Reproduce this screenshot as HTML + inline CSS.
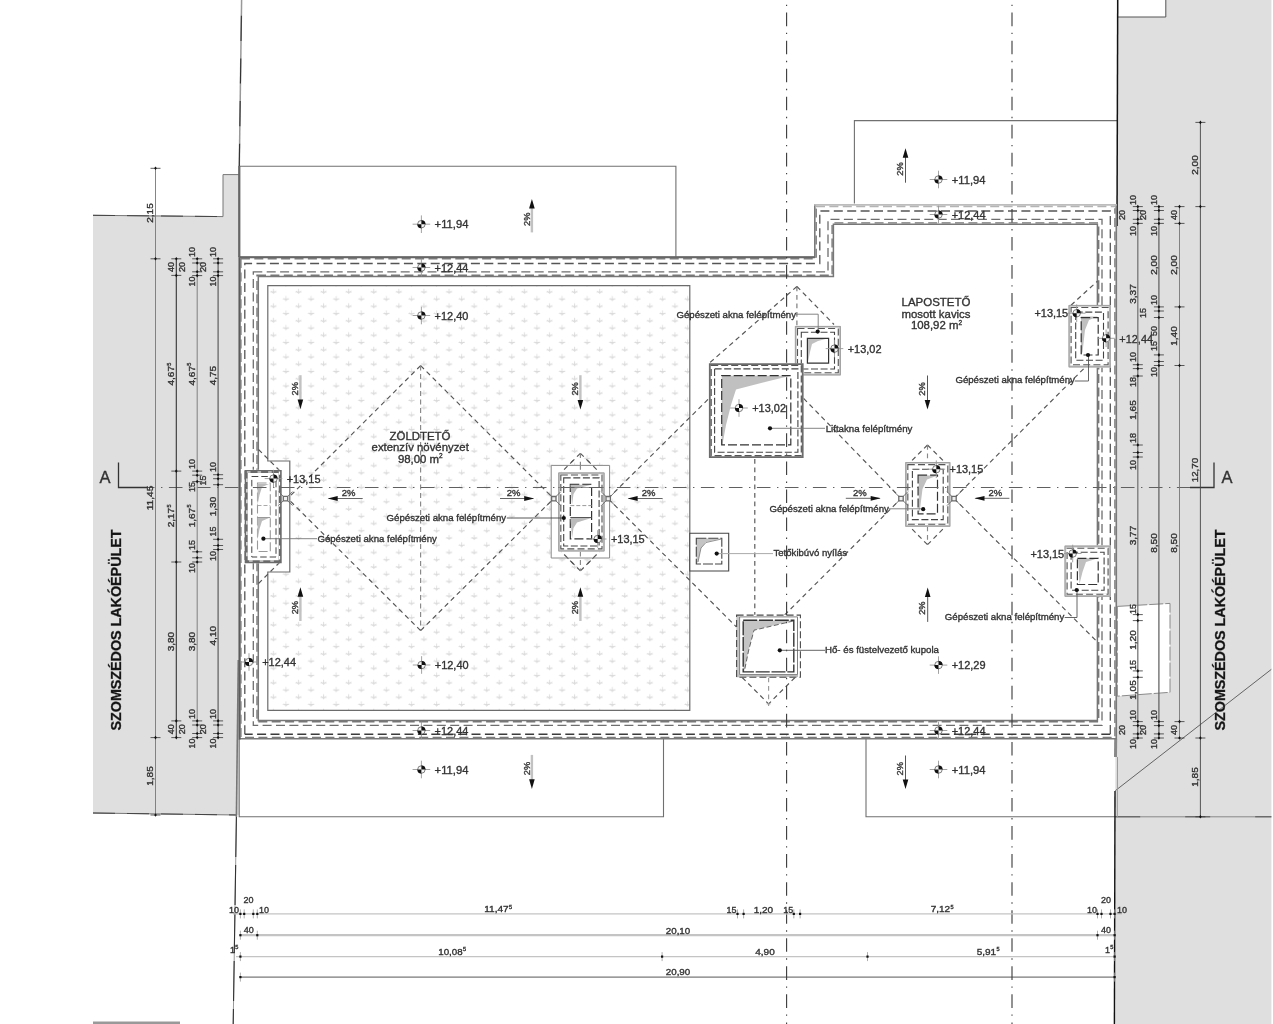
<!DOCTYPE html>
<html><head><meta charset="utf-8"><title>Tetőfelülnézet</title>
<style>
html,body{margin:0;padding:0;background:#fff;}
body{width:1273px;height:1024px;overflow:hidden;}
svg{display:block;font-family:"Liberation Sans",sans-serif;will-change:transform;}
svg text{stroke:#333;stroke-width:0.35px;}
</style></head><body>
<svg width="1273" height="1024" viewBox="0 0 1273 1024">
<rect x="0" y="0" width="1273" height="1024" fill="#fff"/>
<polygon points="93,215.3 223,216.6 223,174.6 239,174.6 239,815 93,813" fill="#dfdfdf" stroke="none" stroke-width="1" />
<polygon points="1117.7,0 1271.4,0 1271.4,1024 1114.5,1024" fill="#dfdfdf" stroke="none" stroke-width="1" />
<polygon points="1117.6,-2 1165.8,-2 1165.8,17 1117.6,17" fill="#fff" stroke="#555" stroke-width="1" />
<polygon points="1117.3,606.4 1170,603.4 1170,692.3 1117.3,696.2" fill="#fff" stroke="#8a8a8a" stroke-width="1" stroke-dasharray="14 2" />
<polygon points="93,1021.5 180,1021.5 180,1024 93,1024" fill="#999" stroke="none" stroke-width="1" />
<polyline points="93,215.3 223,216.6 223,174.6 239,174.6" fill="none" stroke="#777" stroke-width="1" />
<polyline points="93,215.3 223,216.6" fill="none" stroke="#444" stroke-width="1" stroke-dasharray="22 12" />
<polyline points="93,813 237,815" fill="none" stroke="#777" stroke-width="1" />
<polyline points="93,813 237,815" fill="none" stroke="#444" stroke-width="1" stroke-dasharray="22 12" />
<line x1="1115.2" y1="816.8" x2="1271.4" y2="816.8" stroke="#888" stroke-width="1" />
<line x1="1115.2" y1="816.8" x2="1271.4" y2="816.8" stroke="#555" stroke-width="1" stroke-dasharray="25 45" />
<line x1="1115.3" y1="790.7" x2="1271.3" y2="669.4" stroke="#555" stroke-width="0.9" />
<polyline points="239.2,257 239.2,166.3 675.9,166.3 675.9,257" fill="none" stroke="#707070" stroke-width="1.1" />
<polyline points="854.4,205 854.4,120.6 1117.3,120.6" fill="none" stroke="#707070" stroke-width="1.1" />
<polyline points="239.2,739 239.2,816.8 663.5,816.8 663.5,739" fill="none" stroke="#707070" stroke-width="1.1" />
<polyline points="866,739 866,816.8 1115.3,816.8" fill="none" stroke="#707070" stroke-width="1.1" />
<line x1="241.6" y1="0" x2="239.3" y2="166" stroke="#999" stroke-width="1.5" />
<line x1="241.6" y1="0" x2="239.3" y2="166" stroke="#333" stroke-width="1.1" stroke-dasharray="25.2 17.5" stroke-dashoffset="-15.7"/>
<line x1="239.3" y1="166" x2="239.3" y2="257" stroke="#666" stroke-width="2.2" />
<line x1="238.3" y1="660" x2="236.4" y2="817" stroke="#777" stroke-width="1.6" />
<line x1="236.4" y1="817" x2="233.2" y2="1024" stroke="#999" stroke-width="1" />
<line x1="236.4" y1="817" x2="233.2" y2="1024" stroke="#333" stroke-width="1.1" stroke-dasharray="40 8" />
<line x1="1117.7" y1="0" x2="1117.0" y2="226" stroke="#111" stroke-width="1.5" />
<line x1="1115.7" y1="739" x2="1115.5" y2="757" stroke="#888" stroke-width="3" />
<line x1="1117.5" y1="757" x2="1117.3" y2="817" stroke="#999" stroke-width="1" />
<line x1="1115.0" y1="791" x2="1114.4" y2="1024" stroke="#111" stroke-width="1.4" />
<defs>
<pattern id="grass" x="278.6" y="360.4" width="25.1" height="14.48" patternUnits="userSpaceOnUse">
 <g stroke="#d2d2d2" stroke-width="0.7" fill="none">
  <path d="M19.90 0.80V5.40M16.80 3.90H23.00M17.40 3.00L19.90 5.40L22.40 3.00"/>
  <path d="M7.40 8.04V12.64M4.30 11.14H10.50M4.90 10.24L7.40 12.64L9.90 10.24"/>
 </g>
</pattern>
</defs>
<polygon points="267.8,285.6 689.8,285.6 689.8,710.3 267.8,710.3 267.8,572 289.8,572 289.8,461 267.8,461" fill="url(#grass)" stroke="none" stroke-width="1" />
<polygon points="267.8,285.6 689.8,285.6 689.8,710.3 267.8,710.3 267.8,572 289.8,572 289.8,461 267.8,461" fill="none" stroke="#6c6c6c" stroke-width="1.2" />
<polygon points="239.5,257.3 814.8,257.3 814.8,205 1116.3,205 1116.3,738.8 239.5,738.8" fill="none" stroke="#7a7a7a" stroke-width="1.6" />
<line x1="239.6" y1="256.5" x2="239.6" y2="739.6" stroke="#5c5c5c" stroke-width="2" />
<line x1="239" y1="257.3" x2="814.8" y2="257.3" stroke="#666" stroke-width="1.9" />
<polygon points="240.9,258.7 816.1999999999999,258.7 816.1999999999999,206.4 1114.8999999999999,206.4 1114.8999999999999,737.4 240.9,737.4" fill="none" stroke="#7a7a7a" stroke-width="1.4" stroke-dasharray="9 4.4" />
<polygon points="816.2,203.6 1115.2,203.6 1115.2,208.2 816.2,208.2" fill="#fff" stroke="none" stroke-width="1" />
<polyline points="814.2,204.8 1116.8,204.8" fill="none" stroke="#bdbdbd" stroke-width="1.7" />
<polyline points="816,206.5 1115.5,206.5" fill="none" stroke="#b4b4b4" stroke-width="1.7" stroke-dasharray="9 4.4" />
<polyline points="244.8,734.2 244.8,263.5 819.8,263.5 819.8,211 1110.3,211 1110.3,734.2" fill="none" stroke="#555" stroke-width="1.3" stroke-dasharray="9 4.4" />
<line x1="1110.3" y1="734.2" x2="244.8" y2="734.2" stroke="#3c3c3c" stroke-width="1.5" stroke-dasharray="9 4.4" />
<polygon points="253.3,271.9 828,271.9 828,219.3 1102,219.3 1102,725.4 253.3,725.4" fill="none" stroke="#6e6e6e" stroke-width="1.3" stroke-dasharray="9 4.4" />
<polygon points="257.0,275.3 832.1,275.3 832.1,222.89999999999998 1098.7,222.89999999999998 1098.7,721.8 257.0,721.8" fill="none" stroke="#777" stroke-width="1.4" stroke-dasharray="9 4.4" />
<polygon points="258.3,276.6 833.4,276.6 833.4,224.2 1097.4,224.2 1097.4,720.5 258.3,720.5" fill="none" stroke="#777" stroke-width="1.5" />
<line x1="420.6" y1="365.6" x2="289.8" y2="496.4" stroke="#555" stroke-width="1.15" stroke-dasharray="4.8 3.7" />
<line x1="420.6" y1="365.6" x2="553.6" y2="498.6" stroke="#555" stroke-width="1.15" stroke-dasharray="4.8 3.7" />
<line x1="420.6" y1="630.6" x2="289.8" y2="500.6" stroke="#555" stroke-width="1.15" stroke-dasharray="4.8 3.7" />
<line x1="420.6" y1="630.6" x2="553.6" y2="498.6" stroke="#555" stroke-width="1.15" stroke-dasharray="4.8 3.7" />
<line x1="420.6" y1="365.6" x2="420.6" y2="630.6" stroke="#888" stroke-width="1.15" stroke-dasharray="4.8 3.7" />
<line x1="258.5" y1="449.5" x2="279.5" y2="470.5" stroke="#555" stroke-width="1.15" stroke-dasharray="4.8 3.7" />
<line x1="258.5" y1="583.5" x2="279.5" y2="562.5" stroke="#555" stroke-width="1.15" stroke-dasharray="4.8 3.7" />
<line x1="580.4" y1="453.3" x2="561.3" y2="472.4" stroke="#555" stroke-width="1.15" stroke-dasharray="4.8 3.7" />
<line x1="580.4" y1="453.3" x2="599.5" y2="472.4" stroke="#555" stroke-width="1.15" stroke-dasharray="4.8 3.7" />
<line x1="580.4" y1="570.9" x2="561.3" y2="551.6" stroke="#555" stroke-width="1.15" stroke-dasharray="4.8 3.7" />
<line x1="580.4" y1="570.9" x2="599.5" y2="551.6" stroke="#555" stroke-width="1.15" stroke-dasharray="4.8 3.7" />
<line x1="580.4" y1="453.3" x2="580.4" y2="472" stroke="#888" stroke-width="1.15" stroke-dasharray="4.8 3.7" />
<line x1="580.4" y1="551.6" x2="580.4" y2="570.9" stroke="#888" stroke-width="1.15" stroke-dasharray="4.8 3.7" />
<line x1="608" y1="498.6" x2="709" y2="398.4" stroke="#555" stroke-width="1.15" stroke-dasharray="4.8 3.7" />
<line x1="608.2" y1="498.7" x2="736.8" y2="627.3" stroke="#555" stroke-width="1.15" stroke-dasharray="4.8 3.7" />
<line x1="796.9" y1="286.5" x2="709.5" y2="363" stroke="#555" stroke-width="1.15" stroke-dasharray="4.8 3.7" />
<line x1="796.9" y1="286.5" x2="834" y2="324.5" stroke="#555" stroke-width="1.15" stroke-dasharray="4.8 3.7" />
<line x1="796.9" y1="286.5" x2="796.9" y2="326" stroke="#777" stroke-width="1.15" stroke-dasharray="4.8 3.7" />
<line x1="803.6" y1="398.4" x2="901" y2="498.4" stroke="#555" stroke-width="1.15" stroke-dasharray="4.8 3.7" />
<line x1="784.6" y1="615" x2="901" y2="498.6" stroke="#555" stroke-width="1.15" stroke-dasharray="4.8 3.7" />
<line x1="754.8" y1="459" x2="754.8" y2="615" stroke="#555" stroke-width="1.15" stroke-dasharray="4.8 3.7" />
<line x1="742.2" y1="677.5" x2="768.6" y2="703.9" stroke="#555" stroke-width="1.15" stroke-dasharray="4.8 3.7" />
<line x1="795" y1="677.5" x2="768.6" y2="703.9" stroke="#555" stroke-width="1.15" stroke-dasharray="4.8 3.7" />
<line x1="768.6" y1="677.5" x2="768.6" y2="706" stroke="#999" stroke-width="1.15" stroke-dasharray="4.8 3.7" />
<line x1="766.6" y1="703.9" x2="770.6" y2="703.9" stroke="#999" stroke-width="0.8" />
<line x1="927.5" y1="445" x2="910" y2="462.5" stroke="#555" stroke-width="1.15" stroke-dasharray="4.8 3.7" />
<line x1="927.5" y1="445" x2="945" y2="462.5" stroke="#555" stroke-width="1.15" stroke-dasharray="4.8 3.7" />
<line x1="927.5" y1="544.7" x2="909.5" y2="526.5" stroke="#555" stroke-width="1.15" stroke-dasharray="4.8 3.7" />
<line x1="927.5" y1="544.7" x2="945.5" y2="526.5" stroke="#555" stroke-width="1.15" stroke-dasharray="4.8 3.7" />
<line x1="927.5" y1="445" x2="927.5" y2="462.5" stroke="#888" stroke-width="1.15" stroke-dasharray="4.8 3.7" />
<line x1="927.5" y1="526.5" x2="927.5" y2="544.7" stroke="#888" stroke-width="1.15" stroke-dasharray="4.8 3.7" />
<line x1="954" y1="498.4" x2="1085.5" y2="366.9" stroke="#555" stroke-width="1.15" stroke-dasharray="4.8 3.7" />
<line x1="1071" y1="305.2" x2="1097.3" y2="281.3" stroke="#555" stroke-width="1.15" stroke-dasharray="4.8 3.7" />
<line x1="954" y1="498.4" x2="1096.8" y2="641.4" stroke="#555" stroke-width="1.15" stroke-dasharray="4.8 3.7" />
<polygon points="244.6,469.8 281.8,469.8 281.8,563.3 244.6,563.3" fill="#fff" stroke="none" stroke-width="1" />
<polygon points="246.2,471.4 280.2,471.4 280.2,561.7 246.2,561.7" fill="none" stroke="#6a6a6a" stroke-width="3" />
<polygon points="246.9,472.0 279.5,472.0 279.5,561.0 246.9,561.0" fill="none" stroke="#fff" stroke-width="1.2" stroke-dasharray="3.6 7" />
<polygon points="251.8,476.5 276,476.5 276,557 251.8,557" fill="none" stroke="#444" stroke-width="1" stroke-dasharray="6.5 3" />
<polygon points="257.5,483 270.3,483 270.3,551.5 257.5,551.5" fill="none" stroke="#999" stroke-width="1.1" stroke-dasharray="9 3" />
<polygon points="257.5,484 269,484 262,487 259.5,495 257.5,505" fill="#bbb" stroke="none" stroke-width="1" />
<polygon points="257.5,518 269,518 262,521 259.5,529 257.5,540" fill="#bbb" stroke="none" stroke-width="1" />
<line x1="257.5" y1="517.5" x2="270.3" y2="517.5" stroke="#999" stroke-width="1" />
<line x1="257.5" y1="505.5" x2="270.3" y2="505.5" stroke="#aaa" stroke-width="1" stroke-dasharray="4 2" />
<polygon points="551.2,465.4 609.6,465.4 609.6,558 551.2,558" fill="#fff" stroke="#888" stroke-width="1" />
<line x1="573.5" y1="460.2" x2="561.3" y2="472.4" stroke="#555" stroke-width="1.15" stroke-dasharray="4.8 3.7" />
<line x1="587.3" y1="460.2" x2="599.5" y2="472.4" stroke="#555" stroke-width="1.15" stroke-dasharray="4.8 3.7" />
<line x1="573.5" y1="564" x2="561.3" y2="551.6" stroke="#555" stroke-width="1.15" stroke-dasharray="4.8 3.7" />
<line x1="587.3" y1="564" x2="599.5" y2="551.6" stroke="#555" stroke-width="1.15" stroke-dasharray="4.8 3.7" />
<line x1="580.4" y1="465" x2="580.4" y2="472" stroke="#888" stroke-width="1.15" stroke-dasharray="4.8 3.7" />
<line x1="580.4" y1="551.6" x2="580.4" y2="558" stroke="#888" stroke-width="1.15" stroke-dasharray="4.8 3.7" />
<polygon points="558.2,472.4 604.6,472.4 604.6,551.5 558.2,551.5" fill="#fff" stroke="none" stroke-width="1" />
<polygon points="559.8000000000001,474.0 603.0,474.0 603.0,549.9 559.8000000000001,549.9" fill="none" stroke="#c2c2c2" stroke-width="3.2" />
<polygon points="558.7,472.9 604.1,472.9 604.1,551.0 558.7,551.0" fill="none" stroke="#a0a0a0" stroke-width="1" />
<polygon points="560.8000000000001,475.0 602.0,475.0 602.0,548.9 560.8000000000001,548.9" fill="none" stroke="#fff" stroke-width="1.6" />
<polygon points="560.8000000000001,475.0 602.0,475.0 602.0,548.9 560.8000000000001,548.9" fill="none" stroke="#555" stroke-width="1.1" stroke-dasharray="7 3.2" />
<polygon points="563.7,477.9 599.1,477.9 599.1,546.0 563.7,546.0" fill="none" stroke="#444" stroke-width="1.1" stroke-dasharray="7 2.6" />
<polygon points="570.3,484.3 591.6,484.3 591.6,538.8 570.3,538.8" fill="none" stroke="#333" stroke-width="1.2" stroke-dasharray="9 3" />
<polygon points="570.5,484.8 591.4,484.8 577,488.5 573.5,494 572,505" fill="#bbb" stroke="none" stroke-width="1" />
<polygon points="570.5,518 591.4,518 577,522.5 573.5,528 572,538" fill="#bbb" stroke="none" stroke-width="1" />
<line x1="570.3" y1="517.5" x2="591.6" y2="517.5" stroke="#555" stroke-width="1" />
<line x1="570.3" y1="505.6" x2="591.6" y2="505.6" stroke="#999" stroke-width="1" stroke-dasharray="4 2" />
<line x1="558" y1="487.5" x2="604" y2="487.5" stroke="#777" stroke-width="0.8" />
<polygon points="794.9,325.9 840.9,325.9 840.9,375.4 794.9,375.4" fill="#fff" stroke="none" stroke-width="1" />
<polygon points="796.5,327.5 839.3,327.5 839.3,373.79999999999995 796.5,373.79999999999995" fill="none" stroke="#c2c2c2" stroke-width="3.2" />
<polygon points="795.4,326.4 840.4,326.4 840.4,374.9 795.4,374.9" fill="none" stroke="#a0a0a0" stroke-width="1" />
<polygon points="797.5,328.5 838.3,328.5 838.3,372.79999999999995 797.5,372.79999999999995" fill="none" stroke="#fff" stroke-width="1.6" />
<polygon points="797.5,328.5 838.3,328.5 838.3,372.79999999999995 797.5,372.79999999999995" fill="none" stroke="#555" stroke-width="1.1" stroke-dasharray="7 3.2" />
<polygon points="801.3,332.29999999999995 834.5,332.29999999999995 834.5,369.0 801.3,369.0" fill="none" stroke="#444" stroke-width="1.1" stroke-dasharray="7 2.6" />
<polygon points="807.4,338.3 828.5,338.3 818,341 812,344 810,352 807.8,363" fill="#c0c0c0" stroke="none" stroke-width="1" />
<polygon points="807.4,338.3 828.6,338.3 828.6,363.2 807.4,363.2" fill="none" stroke="#333" stroke-width="1.2" />
<polygon points="709.2,363.5 803.3,363.5 803.3,457.7 709.2,457.7" fill="#fff" stroke="none" stroke-width="1" />
<polygon points="709.8000000000001,364.1 802.6999999999999,364.1 802.6999999999999,457.09999999999997 709.8000000000001,457.09999999999997" fill="none" stroke="#6c6c6c" stroke-width="1.8" />
<polygon points="711.2,365.5 801.3,365.5 801.3,455.7 711.2,455.7" fill="none" stroke="#555" stroke-width="1.2" stroke-dasharray="7 3" />
<polygon points="714.6,368.9 797.9,368.9 797.9,452.3 714.6,452.3" fill="none" stroke="#444" stroke-width="1.1" stroke-dasharray="7 2.6" />
<polygon points="721.7,375.7 790.5,375.7 736,389.4 731,405 726,425 722.5,444.4 721.7,444.4" fill="#c0c0c0" stroke="none" stroke-width="1" />
<polygon points="721.7,375.7 790.8,375.7 790.8,444.8 721.7,444.8" fill="none" stroke="#333" stroke-width="1.2" stroke-dasharray="9 3" />
<polygon points="905.2,462 950.4,462 950.4,526.8 905.2,526.8" fill="#fff" stroke="none" stroke-width="1" />
<polygon points="906.8000000000001,463.6 948.8,463.6 948.8,525.1999999999999 906.8000000000001,525.1999999999999" fill="none" stroke="#c2c2c2" stroke-width="3.2" />
<polygon points="905.7,462.5 949.9,462.5 949.9,526.3 905.7,526.3" fill="none" stroke="#a0a0a0" stroke-width="1" />
<polygon points="907.8000000000001,464.6 947.8,464.6 947.8,524.1999999999999 907.8000000000001,524.1999999999999" fill="none" stroke="#fff" stroke-width="1.6" />
<polygon points="907.8000000000001,464.6 947.8,464.6 947.8,524.1999999999999 907.8000000000001,524.1999999999999" fill="none" stroke="#555" stroke-width="1.1" stroke-dasharray="7 3.2" />
<polygon points="912.4000000000001,469.2 943.1999999999999,469.2 943.1999999999999,519.5999999999999 912.4000000000001,519.5999999999999" fill="none" stroke="#444" stroke-width="1.1" stroke-dasharray="7 2.6" />
<polygon points="918.8,475.5 937.5,475.5 927,479.5 922.5,489 920,509 918.8,514" fill="#c0c0c0" stroke="none" stroke-width="1" />
<polygon points="918.1,475.2 937.5,475.2 937.5,513.9 918.1,513.9" fill="none" stroke="#333" stroke-width="1.2" stroke-dasharray="9 3" />
<polygon points="1068.5,304.9 1110.7,304.9 1110.7,367.4 1068.5,367.4" fill="#fff" stroke="none" stroke-width="1" />
<polygon points="1070.1,306.5 1109.1000000000001,306.5 1109.1000000000001,365.79999999999995 1070.1,365.79999999999995" fill="none" stroke="#c2c2c2" stroke-width="3.2" />
<polygon points="1069.0,305.4 1110.2,305.4 1110.2,366.9 1069.0,366.9" fill="none" stroke="#a0a0a0" stroke-width="1" />
<polygon points="1071.1,307.5 1108.1000000000001,307.5 1108.1000000000001,364.79999999999995 1071.1,364.79999999999995" fill="none" stroke="#fff" stroke-width="1.6" />
<polygon points="1071.1,307.5 1108.1000000000001,307.5 1108.1000000000001,364.79999999999995 1071.1,364.79999999999995" fill="none" stroke="#555" stroke-width="1.1" stroke-dasharray="7 3.2" />
<polygon points="1075.7,312.09999999999997 1103.5,312.09999999999997 1103.5,360.2 1075.7,360.2" fill="none" stroke="#444" stroke-width="1.1" stroke-dasharray="7 2.6" />
<polygon points="1081,316.5 1098,316.5 1089,320 1085,330 1082.5,352 1081,355" fill="#c0c0c0" stroke="none" stroke-width="1" />
<polygon points="1081.2,317.7 1098.2,317.7 1098.2,355 1081.2,355" fill="none" stroke="#333" stroke-width="1.2" stroke-dasharray="9 3" />
<polygon points="1064.5,545.6 1110.7,545.6 1110.7,596.8 1064.5,596.8" fill="#fff" stroke="none" stroke-width="1" />
<polygon points="1066.1,547.2 1109.1000000000001,547.2 1109.1000000000001,595.1999999999999 1066.1,595.1999999999999" fill="none" stroke="#c2c2c2" stroke-width="3.2" />
<polygon points="1065.0,546.1 1110.2,546.1 1110.2,596.3 1065.0,596.3" fill="none" stroke="#a0a0a0" stroke-width="1" />
<polygon points="1067.1,548.2 1108.1000000000001,548.2 1108.1000000000001,594.1999999999999 1067.1,594.1999999999999" fill="none" stroke="#fff" stroke-width="1.6" />
<polygon points="1067.1,548.2 1108.1000000000001,548.2 1108.1000000000001,594.1999999999999 1067.1,594.1999999999999" fill="none" stroke="#555" stroke-width="1.1" stroke-dasharray="7 3.2" />
<polygon points="1071.1,552.2 1104.1000000000001,552.2 1104.1000000000001,590.1999999999999 1071.1,590.1999999999999" fill="none" stroke="#444" stroke-width="1.1" stroke-dasharray="7 2.6" />
<polygon points="1078,558.3 1098,558.3 1086,562 1082.5,572 1079.5,584" fill="#c0c0c0" stroke="none" stroke-width="1" />
<polygon points="1077.4,558.3 1098.2,558.3 1098.2,584.5 1077.4,584.5" fill="none" stroke="#333" stroke-width="1.2" stroke-dasharray="9 3" />
<polygon points="736.3,614.8 800.7,614.8 800.7,677.4 736.3,677.4" fill="#fff" stroke="none" stroke-width="1" />
<line x1="737.9" y1="615" x2="737.9" y2="677.3" stroke="#c6c6c6" stroke-width="3.2" />
<line x1="736.5" y1="675.7" x2="798" y2="675.7" stroke="#c0c0c0" stroke-width="2.6" />
<polygon points="739.6,616.9 797.5,616.9 797.5,674.6 739.6,674.6" fill="none" stroke="#808080" stroke-width="1" />
<polygon points="736.6,615.1 800.4,615.1 800.4,677.3 736.6,677.3" fill="none" stroke="#4a4a4a" stroke-width="1.1" stroke-dasharray="7 3" />
<polygon points="743.5,620.6 793.3,620.6 754,630.2 748.5,651 744.2,671.3 743.5,671.3" fill="#c4c4c4" stroke="none" stroke-width="1" />
<polyline points="793.3,621 754,630.2 748.5,651 744.4,671" fill="none" stroke="#555" stroke-width="0.9" stroke-dasharray="5 2.5" />
<polygon points="743.2,620.2 793.8,620.2 793.8,671.9 743.2,671.9" fill="none" stroke="#333" stroke-width="1.4" stroke-dasharray="14 1.8" />
<polygon points="689.8,533.3 728.7,533.3 728.7,571 689.8,571" fill="#fff" stroke="#444" stroke-width="1.1" />
<polygon points="696.5,538.5 721.5,538.5 706,542 701,548 698,562 696.5,563.5" fill="#c4c4c4" stroke="none" stroke-width="1" />
<polygon points="696.3,538.3 721.8,538.3 721.8,564 696.3,564" fill="none" stroke="#444" stroke-width="1.1" stroke-dasharray="10 2" />
<polyline points="721.5,539 706,542.5 701,548 698,562" fill="none" stroke="#777" stroke-width="0.8" />
<line x1="786.6" y1="0" x2="786.6" y2="1024" stroke="#3a3a3a" stroke-width="1.1" stroke-dasharray="13.6 6.52 1.4 6.53" stroke-dashoffset="15.45"/>
<line x1="1012" y1="0" x2="1012" y2="1024" stroke="#3a3a3a" stroke-width="1.1" stroke-dasharray="13.6 6.52 1.4 6.53" stroke-dashoffset="15.45"/>
<line x1="118.5" y1="487.5" x2="1214" y2="487.5" stroke="#606060" stroke-width="1.15" stroke-dasharray="13.6 6.5 1.4 6.5" stroke-dashoffset="5.6"/>
<line x1="278.5" y1="491.6" x2="292.5" y2="505.6" stroke="#666" stroke-width="0.9" />
<line x1="278.5" y1="505.6" x2="292.5" y2="491.6" stroke="#666" stroke-width="0.9" />
<polygon points="283.3,496.40000000000003 287.7,496.40000000000003 287.7,500.8 283.3,500.8" fill="#eee" stroke="#6a6a6a" stroke-width="1.3" />
<line x1="546.8" y1="491.7" x2="560.8" y2="505.7" stroke="#666" stroke-width="0.9" />
<line x1="546.8" y1="505.7" x2="560.8" y2="491.7" stroke="#666" stroke-width="0.9" />
<polygon points="551.5999999999999,496.5 556.0,496.5 556.0,500.9 551.5999999999999,500.9" fill="#eee" stroke="#6a6a6a" stroke-width="1.3" />
<line x1="601.2" y1="491.7" x2="615.2" y2="505.7" stroke="#666" stroke-width="0.9" />
<line x1="601.2" y1="505.7" x2="615.2" y2="491.7" stroke="#666" stroke-width="0.9" />
<polygon points="606.0,496.5 610.4000000000001,496.5 610.4000000000001,500.9 606.0,500.9" fill="#eee" stroke="#6a6a6a" stroke-width="1.3" />
<line x1="894" y1="491.6" x2="908" y2="505.6" stroke="#666" stroke-width="0.9" />
<line x1="894" y1="505.6" x2="908" y2="491.6" stroke="#666" stroke-width="0.9" />
<polygon points="898.8,496.40000000000003 903.2,496.40000000000003 903.2,500.8 898.8,500.8" fill="#eee" stroke="#6a6a6a" stroke-width="1.3" />
<line x1="947" y1="491.6" x2="961" y2="505.6" stroke="#666" stroke-width="0.9" />
<line x1="947" y1="505.6" x2="961" y2="491.6" stroke="#666" stroke-width="0.9" />
<polygon points="951.8,496.40000000000003 956.2,496.40000000000003 956.2,500.8 951.8,500.8" fill="#eee" stroke="#6a6a6a" stroke-width="1.3" />
<line x1="412.59999999999997" y1="224.2" x2="430.2" y2="224.2" stroke="#999" stroke-width="0.9" />
<line x1="421.4" y1="215.39999999999998" x2="421.4" y2="233.0" stroke="#999" stroke-width="0.9" />
<circle cx="421.4" cy="224.2" r="3.75" fill="#f4f4f4" stroke="#333" stroke-width="0.6"/>
<path d="M421.4,224.2 L421.4,220.14999999999998 A4.05,4.05 0 0 1 425.45,224.2 Z" fill="#111"/>
<path d="M421.4,224.2 L421.4,228.25 A4.05,4.05 0 0 1 417.34999999999997,224.2 Z" fill="#111"/>
<text x="434.59999999999997" y="228.39999999999998" font-size="11.2" text-anchor="start" fill="#333" font-weight="normal" textLength="33.8" lengthAdjust="spacingAndGlyphs" >+11,94</text>
<line x1="412.59999999999997" y1="267.5" x2="430.2" y2="267.5" stroke="#999" stroke-width="0.9" />
<line x1="421.4" y1="258.7" x2="421.4" y2="276.3" stroke="#999" stroke-width="0.9" />
<circle cx="421.4" cy="267.5" r="3.75" fill="#f4f4f4" stroke="#333" stroke-width="0.6"/>
<path d="M421.4,267.5 L421.4,263.45 A4.05,4.05 0 0 1 425.45,267.5 Z" fill="#111"/>
<path d="M421.4,267.5 L421.4,271.55 A4.05,4.05 0 0 1 417.34999999999997,267.5 Z" fill="#111"/>
<text x="434.59999999999997" y="271.7" font-size="11.2" text-anchor="start" fill="#333" font-weight="normal" textLength="33.8" lengthAdjust="spacingAndGlyphs" >+12,44</text>
<line x1="412.59999999999997" y1="315.5" x2="430.2" y2="315.5" stroke="#999" stroke-width="0.9" />
<line x1="421.4" y1="306.7" x2="421.4" y2="324.3" stroke="#999" stroke-width="0.9" />
<circle cx="421.4" cy="315.5" r="3.75" fill="#f4f4f4" stroke="#333" stroke-width="0.6"/>
<path d="M421.4,315.5 L421.4,311.45 A4.05,4.05 0 0 1 425.45,315.5 Z" fill="#111"/>
<path d="M421.4,315.5 L421.4,319.55 A4.05,4.05 0 0 1 417.34999999999997,315.5 Z" fill="#111"/>
<text x="434.59999999999997" y="319.7" font-size="11.2" text-anchor="start" fill="#333" font-weight="normal" textLength="33.8" lengthAdjust="spacingAndGlyphs" >+12,40</text>
<line x1="412.8" y1="665.0" x2="430.40000000000003" y2="665.0" stroke="#999" stroke-width="0.9" />
<line x1="421.6" y1="656.2" x2="421.6" y2="673.8" stroke="#999" stroke-width="0.9" />
<circle cx="421.6" cy="665.0" r="3.75" fill="#f4f4f4" stroke="#333" stroke-width="0.6"/>
<path d="M421.6,665.0 L421.6,660.95 A4.05,4.05 0 0 1 425.65000000000003,665.0 Z" fill="#111"/>
<path d="M421.6,665.0 L421.6,669.05 A4.05,4.05 0 0 1 417.55,665.0 Z" fill="#111"/>
<text x="434.8" y="669.2" font-size="11.2" text-anchor="start" fill="#333" font-weight="normal" textLength="33.8" lengthAdjust="spacingAndGlyphs" >+12,40</text>
<line x1="412.59999999999997" y1="730.5" x2="430.2" y2="730.5" stroke="#999" stroke-width="0.9" />
<line x1="421.4" y1="721.7" x2="421.4" y2="739.3" stroke="#999" stroke-width="0.9" />
<circle cx="421.4" cy="730.5" r="3.75" fill="#f4f4f4" stroke="#333" stroke-width="0.6"/>
<path d="M421.4,730.5 L421.4,726.45 A4.05,4.05 0 0 1 425.45,730.5 Z" fill="#111"/>
<path d="M421.4,730.5 L421.4,734.55 A4.05,4.05 0 0 1 417.34999999999997,730.5 Z" fill="#111"/>
<text x="434.59999999999997" y="734.7" font-size="11.2" text-anchor="start" fill="#333" font-weight="normal" textLength="33.8" lengthAdjust="spacingAndGlyphs" >+12,44</text>
<line x1="412.59999999999997" y1="769.5" x2="430.2" y2="769.5" stroke="#999" stroke-width="0.9" />
<line x1="421.4" y1="760.7" x2="421.4" y2="778.3" stroke="#999" stroke-width="0.9" />
<circle cx="421.4" cy="769.5" r="3.75" fill="#f4f4f4" stroke="#333" stroke-width="0.6"/>
<path d="M421.4,769.5 L421.4,765.45 A4.05,4.05 0 0 1 425.45,769.5 Z" fill="#111"/>
<path d="M421.4,769.5 L421.4,773.55 A4.05,4.05 0 0 1 417.34999999999997,769.5 Z" fill="#111"/>
<text x="434.59999999999997" y="773.7" font-size="11.2" text-anchor="start" fill="#333" font-weight="normal" textLength="33.8" lengthAdjust="spacingAndGlyphs" >+11,94</text>
<line x1="240.2" y1="662" x2="257.8" y2="662" stroke="#999" stroke-width="0.9" />
<line x1="249" y1="653.2" x2="249" y2="670.8" stroke="#999" stroke-width="0.9" />
<circle cx="249" cy="662" r="3.75" fill="#f4f4f4" stroke="#333" stroke-width="0.6"/>
<path d="M249,662 L249,657.95 A4.05,4.05 0 0 1 253.05,662 Z" fill="#111"/>
<path d="M249,662 L249,666.05 A4.05,4.05 0 0 1 244.95,662 Z" fill="#111"/>
<text x="262.2" y="666.2" font-size="11.2" text-anchor="start" fill="#333" font-weight="normal" textLength="33.8" lengthAdjust="spacingAndGlyphs" >+12,44</text>
<line x1="264.7" y1="478.6" x2="282.3" y2="478.6" stroke="#999" stroke-width="0.9" />
<line x1="273.5" y1="469.8" x2="273.5" y2="487.40000000000003" stroke="#999" stroke-width="0.9" />
<circle cx="273.5" cy="478.6" r="3.75" fill="#f4f4f4" stroke="#333" stroke-width="0.6"/>
<path d="M273.5,478.6 L273.5,474.55 A4.05,4.05 0 0 1 277.55,478.6 Z" fill="#111"/>
<path d="M273.5,478.6 L273.5,482.65000000000003 A4.05,4.05 0 0 1 269.45,478.6 Z" fill="#111"/>
<text x="286.7" y="482.8" font-size="11.2" text-anchor="start" fill="#333" font-weight="normal" textLength="33.8" lengthAdjust="spacingAndGlyphs" >+13,15</text>
<line x1="588.9000000000001" y1="539" x2="606.5" y2="539" stroke="#999" stroke-width="0.9" />
<line x1="597.7" y1="530.2" x2="597.7" y2="547.8" stroke="#999" stroke-width="0.9" />
<circle cx="597.7" cy="539" r="3.75" fill="#f4f4f4" stroke="#333" stroke-width="0.6"/>
<path d="M597.7,539 L597.7,534.95 A4.05,4.05 0 0 1 601.75,539 Z" fill="#111"/>
<path d="M597.7,539 L597.7,543.05 A4.05,4.05 0 0 1 593.6500000000001,539 Z" fill="#111"/>
<text x="610.9000000000001" y="543.2" font-size="11.2" text-anchor="start" fill="#333" font-weight="normal" textLength="33.8" lengthAdjust="spacingAndGlyphs" >+13,15</text>
<line x1="929.7" y1="179.5" x2="947.3" y2="179.5" stroke="#999" stroke-width="0.9" />
<line x1="938.5" y1="170.7" x2="938.5" y2="188.3" stroke="#999" stroke-width="0.9" />
<circle cx="938.5" cy="179.5" r="3.75" fill="#f4f4f4" stroke="#333" stroke-width="0.6"/>
<path d="M938.5,179.5 L938.5,175.45 A4.05,4.05 0 0 1 942.55,179.5 Z" fill="#111"/>
<path d="M938.5,179.5 L938.5,183.55 A4.05,4.05 0 0 1 934.45,179.5 Z" fill="#111"/>
<text x="951.7" y="183.7" font-size="11.2" text-anchor="start" fill="#333" font-weight="normal" textLength="33.8" lengthAdjust="spacingAndGlyphs" >+11,94</text>
<line x1="929.7" y1="214.5" x2="947.3" y2="214.5" stroke="#999" stroke-width="0.9" />
<line x1="938.5" y1="205.7" x2="938.5" y2="223.3" stroke="#999" stroke-width="0.9" />
<circle cx="938.5" cy="214.5" r="3.75" fill="#f4f4f4" stroke="#333" stroke-width="0.6"/>
<path d="M938.5,214.5 L938.5,210.45 A4.05,4.05 0 0 1 942.55,214.5 Z" fill="#111"/>
<path d="M938.5,214.5 L938.5,218.55 A4.05,4.05 0 0 1 934.45,214.5 Z" fill="#111"/>
<text x="951.7" y="218.7" font-size="11.2" text-anchor="start" fill="#333" font-weight="normal" textLength="33.8" lengthAdjust="spacingAndGlyphs" >+12,44</text>
<line x1="929.7" y1="665.1" x2="947.3" y2="665.1" stroke="#999" stroke-width="0.9" />
<line x1="938.5" y1="656.3000000000001" x2="938.5" y2="673.9" stroke="#999" stroke-width="0.9" />
<circle cx="938.5" cy="665.1" r="3.75" fill="#f4f4f4" stroke="#333" stroke-width="0.6"/>
<path d="M938.5,665.1 L938.5,661.0500000000001 A4.05,4.05 0 0 1 942.55,665.1 Z" fill="#111"/>
<path d="M938.5,665.1 L938.5,669.15 A4.05,4.05 0 0 1 934.45,665.1 Z" fill="#111"/>
<text x="951.7" y="669.3000000000001" font-size="11.2" text-anchor="start" fill="#333" font-weight="normal" textLength="33.8" lengthAdjust="spacingAndGlyphs" >+12,29</text>
<line x1="929.7" y1="730.5" x2="947.3" y2="730.5" stroke="#999" stroke-width="0.9" />
<line x1="938.5" y1="721.7" x2="938.5" y2="739.3" stroke="#999" stroke-width="0.9" />
<circle cx="938.5" cy="730.5" r="3.75" fill="#f4f4f4" stroke="#333" stroke-width="0.6"/>
<path d="M938.5,730.5 L938.5,726.45 A4.05,4.05 0 0 1 942.55,730.5 Z" fill="#111"/>
<path d="M938.5,730.5 L938.5,734.55 A4.05,4.05 0 0 1 934.45,730.5 Z" fill="#111"/>
<text x="951.7" y="734.7" font-size="11.2" text-anchor="start" fill="#333" font-weight="normal" textLength="33.8" lengthAdjust="spacingAndGlyphs" >+12,44</text>
<line x1="929.7" y1="769.5" x2="947.3" y2="769.5" stroke="#999" stroke-width="0.9" />
<line x1="938.5" y1="760.7" x2="938.5" y2="778.3" stroke="#999" stroke-width="0.9" />
<circle cx="938.5" cy="769.5" r="3.75" fill="#f4f4f4" stroke="#333" stroke-width="0.6"/>
<path d="M938.5,769.5 L938.5,765.45 A4.05,4.05 0 0 1 942.55,769.5 Z" fill="#111"/>
<path d="M938.5,769.5 L938.5,773.55 A4.05,4.05 0 0 1 934.45,769.5 Z" fill="#111"/>
<text x="951.7" y="773.7" font-size="11.2" text-anchor="start" fill="#333" font-weight="normal" textLength="33.8" lengthAdjust="spacingAndGlyphs" >+11,94</text>
<line x1="730.2" y1="408" x2="747.8" y2="408" stroke="#999" stroke-width="0.9" />
<line x1="739" y1="399.2" x2="739" y2="416.8" stroke="#999" stroke-width="0.9" />
<circle cx="739" cy="408" r="3.75" fill="#f4f4f4" stroke="#333" stroke-width="0.6"/>
<path d="M739,408 L739,403.95 A4.05,4.05 0 0 1 743.05,408 Z" fill="#111"/>
<path d="M739,408 L739,412.05 A4.05,4.05 0 0 1 734.95,408 Z" fill="#111"/>
<text x="752.2" y="412.2" font-size="11.2" text-anchor="start" fill="#333" font-weight="normal" textLength="33.8" lengthAdjust="spacingAndGlyphs" >+13,02</text>
<line x1="825.7" y1="348.6" x2="843.3" y2="348.6" stroke="#999" stroke-width="0.9" />
<line x1="834.5" y1="339.8" x2="834.5" y2="357.40000000000003" stroke="#999" stroke-width="0.9" />
<circle cx="834.5" cy="348.6" r="3.75" fill="#f4f4f4" stroke="#333" stroke-width="0.6"/>
<path d="M834.5,348.6 L834.5,344.55 A4.05,4.05 0 0 1 838.55,348.6 Z" fill="#111"/>
<path d="M834.5,348.6 L834.5,352.65000000000003 A4.05,4.05 0 0 1 830.45,348.6 Z" fill="#111"/>
<text x="847.7" y="352.8" font-size="11.2" text-anchor="start" fill="#333" font-weight="normal" textLength="33.8" lengthAdjust="spacingAndGlyphs" >+13,02</text>
<line x1="927.5" y1="469.2" x2="945.0999999999999" y2="469.2" stroke="#999" stroke-width="0.9" />
<line x1="936.3" y1="460.4" x2="936.3" y2="478.0" stroke="#999" stroke-width="0.9" />
<circle cx="936.3" cy="469.2" r="3.75" fill="#f4f4f4" stroke="#333" stroke-width="0.6"/>
<path d="M936.3,469.2 L936.3,465.15 A4.05,4.05 0 0 1 940.3499999999999,469.2 Z" fill="#111"/>
<path d="M936.3,469.2 L936.3,473.25 A4.05,4.05 0 0 1 932.25,469.2 Z" fill="#111"/>
<text x="949.5" y="473.4" font-size="11.2" text-anchor="start" fill="#333" font-weight="normal" textLength="33.8" lengthAdjust="spacingAndGlyphs" >+13,15</text>
<line x1="1067.9" y1="313.2" x2="1085.5" y2="313.2" stroke="#999" stroke-width="0.9" />
<line x1="1076.7" y1="304.4" x2="1076.7" y2="322.0" stroke="#999" stroke-width="0.9" />
<circle cx="1076.7" cy="313.2" r="3.75" fill="#f4f4f4" stroke="#333" stroke-width="0.6"/>
<path d="M1076.7,313.2 L1076.7,309.15 A4.05,4.05 0 0 1 1080.75,313.2 Z" fill="#111"/>
<path d="M1076.7,313.2 L1076.7,317.25 A4.05,4.05 0 0 1 1072.65,313.2 Z" fill="#111"/>
<text x="1068.2" y="317.4" font-size="11.2" text-anchor="end" fill="#333" font-weight="normal" textLength="33.8" lengthAdjust="spacingAndGlyphs" >+13,15</text>
<line x1="1097.3" y1="338.3" x2="1114.8999999999999" y2="338.3" stroke="#999" stroke-width="0.9" />
<line x1="1106.1" y1="329.5" x2="1106.1" y2="347.1" stroke="#999" stroke-width="0.9" />
<circle cx="1106.1" cy="338.3" r="3.75" fill="#f4f4f4" stroke="#333" stroke-width="0.6"/>
<path d="M1106.1,338.3 L1106.1,334.25 A4.05,4.05 0 0 1 1110.1499999999999,338.3 Z" fill="#111"/>
<path d="M1106.1,338.3 L1106.1,342.35 A4.05,4.05 0 0 1 1102.05,338.3 Z" fill="#111"/>
<text x="1119.3" y="342.5" font-size="11.2" text-anchor="start" fill="#333" font-weight="normal" textLength="33.8" lengthAdjust="spacingAndGlyphs" >+12,44</text>
<line x1="1063.9" y1="553.5" x2="1081.5" y2="553.5" stroke="#999" stroke-width="0.9" />
<line x1="1072.7" y1="544.7" x2="1072.7" y2="562.3" stroke="#999" stroke-width="0.9" />
<circle cx="1072.7" cy="553.5" r="3.75" fill="#f4f4f4" stroke="#333" stroke-width="0.6"/>
<path d="M1072.7,553.5 L1072.7,549.45 A4.05,4.05 0 0 1 1076.75,553.5 Z" fill="#111"/>
<path d="M1072.7,553.5 L1072.7,557.55 A4.05,4.05 0 0 1 1068.65,553.5 Z" fill="#111"/>
<text x="1064.2" y="557.7" font-size="11.2" text-anchor="end" fill="#333" font-weight="normal" textLength="33.8" lengthAdjust="spacingAndGlyphs" >+13,15</text>
<line x1="531.9" y1="204" x2="531.9" y2="232.4" stroke="#c2c2c2" stroke-width="2.4" />
<path d="M531.9,199 L529.1,208.6 L534.6999999999999,208.6 Z" fill="#111"/>
<text x="529.6999999999999" y="219.2" font-size="9.3" text-anchor="middle" fill="#444" font-weight="normal" transform="rotate(-90 529.6999999999999 219.2)" >2%</text>
<line x1="905.5" y1="153.2" x2="905.5" y2="182.7" stroke="#555" stroke-width="1" />
<path d="M905.5,148.2 L902.7,157.79999999999998 L908.3,157.79999999999998 Z" fill="#111"/>
<text x="903.3" y="168.95" font-size="9.3" text-anchor="middle" fill="#444" font-weight="normal" transform="rotate(-90 903.3 168.95)" >2%</text>
<line x1="300.4" y1="375.2" x2="300.4" y2="404.2" stroke="#c2c2c2" stroke-width="2.4" />
<path d="M300.4,409.2 L297.59999999999997,399.59999999999997 L303.2,399.59999999999997 Z" fill="#111"/>
<text x="298.2" y="388.7" font-size="9.3" text-anchor="middle" fill="#444" font-weight="normal" transform="rotate(-90 298.2 388.7)" >2%</text>
<line x1="580.4" y1="375.2" x2="580.4" y2="404.5" stroke="#c2c2c2" stroke-width="2.4" />
<path d="M580.4,409.5 L577.6,399.9 L583.1999999999999,399.9 Z" fill="#111"/>
<text x="578.1999999999999" y="388.85" font-size="9.3" text-anchor="middle" fill="#444" font-weight="normal" transform="rotate(-90 578.1999999999999 388.85)" >2%</text>
<line x1="300.4" y1="592.2" x2="300.4" y2="621" stroke="#c2c2c2" stroke-width="2.4" />
<path d="M300.4,587.2 L297.59999999999997,596.8000000000001 L303.2,596.8000000000001 Z" fill="#111"/>
<text x="298.2" y="607.6" font-size="9.3" text-anchor="middle" fill="#444" font-weight="normal" transform="rotate(-90 298.2 607.6)" >2%</text>
<line x1="580.4" y1="592.2" x2="580.4" y2="621" stroke="#c2c2c2" stroke-width="2.4" />
<path d="M580.4,587.2 L577.6,596.8000000000001 L583.1999999999999,596.8000000000001 Z" fill="#111"/>
<text x="578.1999999999999" y="607.6" font-size="9.3" text-anchor="middle" fill="#444" font-weight="normal" transform="rotate(-90 578.1999999999999 607.6)" >2%</text>
<line x1="531.9" y1="754.9" x2="531.9" y2="783.9" stroke="#c2c2c2" stroke-width="2.4" />
<path d="M531.9,788.9 L529.1,779.3 L534.6999999999999,779.3 Z" fill="#111"/>
<text x="529.6999999999999" y="768.4" font-size="9.3" text-anchor="middle" fill="#444" font-weight="normal" transform="rotate(-90 529.6999999999999 768.4)" >2%</text>
<line x1="905.5" y1="755.5" x2="905.5" y2="784" stroke="#555" stroke-width="1" />
<path d="M905.5,789 L902.7,779.4 L908.3,779.4 Z" fill="#111"/>
<text x="903.3" y="768.75" font-size="9.3" text-anchor="middle" fill="#444" font-weight="normal" transform="rotate(-90 903.3 768.75)" >2%</text>
<line x1="927.5" y1="375.5" x2="927.5" y2="404.5" stroke="#555" stroke-width="1" />
<path d="M927.5,409.5 L924.7,399.9 L930.3,399.9 Z" fill="#111"/>
<text x="925.3" y="389.0" font-size="9.3" text-anchor="middle" fill="#444" font-weight="normal" transform="rotate(-90 925.3 389.0)" >2%</text>
<line x1="927.7" y1="592.4" x2="927.7" y2="621.9" stroke="#555" stroke-width="1" />
<path d="M927.7,587.4 L924.9000000000001,597.0 L930.5,597.0 Z" fill="#111"/>
<text x="925.5" y="608.15" font-size="9.3" text-anchor="middle" fill="#444" font-weight="normal" transform="rotate(-90 925.5 608.15)" >2%</text>
<line x1="328.7" y1="498.5" x2="362.7" y2="498.5" stroke="#666" stroke-width="1" />
<path d="M327.7,498.5 L337.7,496.1 L337.7,500.9 Z" fill="#111"/>
<text x="348.7" y="496.1" font-size="9.5" text-anchor="middle" fill="#333" font-weight="normal" >2%</text>
<line x1="500" y1="498.5" x2="533.2" y2="498.5" stroke="#666" stroke-width="1" />
<path d="M534.2,498.5 L524.2,496.1 L524.2,500.9 Z" fill="#111"/>
<text x="513.6" y="496.1" font-size="9.5" text-anchor="middle" fill="#333" font-weight="normal" >2%</text>
<line x1="628.6" y1="498.5" x2="662.6" y2="498.5" stroke="#666" stroke-width="1" />
<path d="M627.6,498.5 L637.6,496.1 L637.6,500.9 Z" fill="#111"/>
<text x="648.6" y="496.1" font-size="9.5" text-anchor="middle" fill="#333" font-weight="normal" >2%</text>
<line x1="845.8" y1="498.3" x2="879.7" y2="498.3" stroke="#666" stroke-width="1" />
<path d="M880.7,498.3 L870.7,495.90000000000003 L870.7,500.7 Z" fill="#111"/>
<text x="859.75" y="495.90000000000003" font-size="9.5" text-anchor="middle" fill="#333" font-weight="normal" >2%</text>
<line x1="975.5" y1="498.3" x2="1009.4" y2="498.3" stroke="#666" stroke-width="1" />
<path d="M974.5,498.3 L984.5,495.90000000000003 L984.5,500.7 Z" fill="#111"/>
<text x="995.45" y="495.90000000000003" font-size="9.5" text-anchor="middle" fill="#333" font-weight="normal" >2%</text>
<line x1="263.4" y1="538.7" x2="317" y2="538.7" stroke="#777" stroke-width="0.9" />
<circle cx="263.4" cy="538.7" r="2.1" fill="#111"/>
<text x="317.4" y="542" font-size="9.6" text-anchor="start" fill="#333" font-weight="normal" textLength="119.5" lengthAdjust="spacingAndGlyphs" >Gépészeti akna felépítmény</text>
<line x1="506.8" y1="518" x2="563.8" y2="518" stroke="#444" stroke-width="0.9" />
<circle cx="563.8" cy="518" r="2.1" fill="#111"/>
<text x="386.6" y="521.3" font-size="9.6" text-anchor="start" fill="#333" font-weight="normal" textLength="119.5" lengthAdjust="spacingAndGlyphs" >Gépészeti akna felépítmény</text>
<polyline points="796,314.2 818.2,314.2 818.2,331.6" fill="none" stroke="#777" stroke-width="0.9" />
<circle cx="817.7" cy="331.6" r="2.1" fill="#111"/>
<text x="676.5" y="318.3" font-size="9.6" text-anchor="start" fill="#333" font-weight="normal" textLength="119.5" lengthAdjust="spacingAndGlyphs" >Gépészeti akna felépítmény</text>
<line x1="770" y1="428.3" x2="825" y2="428.3" stroke="#777" stroke-width="0.9" />
<circle cx="770" cy="428.3" r="2.1" fill="#111"/>
<text x="825.7" y="431.6" font-size="9.6" text-anchor="start" fill="#333" font-weight="normal" textLength="86.7" lengthAdjust="spacingAndGlyphs" >Liftakna felépítmény</text>
<line x1="888.5" y1="508.8" x2="923.2" y2="508.8" stroke="#777" stroke-width="0.9" />
<circle cx="923.2" cy="509.2" r="2.1" fill="#111"/>
<text x="769.4" y="511.5" font-size="9.6" text-anchor="start" fill="#333" font-weight="normal" textLength="119.5" lengthAdjust="spacingAndGlyphs" >Gépészeti akna felépítmény</text>
<polyline points="1074.7,381 1088.5,381 1088.5,355" fill="none" stroke="#555" stroke-width="0.9" />
<circle cx="1088" cy="355" r="2.1" fill="#111"/>
<text x="955.4" y="383.3" font-size="9.6" text-anchor="start" fill="#333" font-weight="normal" textLength="119.5" lengthAdjust="spacingAndGlyphs" >Gépészeti akna felépítmény</text>
<polyline points="1064.7,617.5 1077,617.5 1077,590" fill="none" stroke="#555" stroke-width="0.9" />
<circle cx="1076.7" cy="590" r="2.1" fill="#111"/>
<text x="944.8" y="620" font-size="9.6" text-anchor="start" fill="#333" font-weight="normal" textLength="119.5" lengthAdjust="spacingAndGlyphs" >Gépészeti akna felépítmény</text>
<line x1="716.7" y1="553.6" x2="773" y2="553.6" stroke="#aaa" stroke-width="1" />
<circle cx="716.7" cy="553.6" r="2.1" fill="#111"/>
<text x="773.5" y="555.9" font-size="9.6" text-anchor="start" fill="#333" font-weight="normal" textLength="73.5" lengthAdjust="spacingAndGlyphs" >Tetőkibúvó nyílás</text>
<line x1="779.8" y1="650.3" x2="825" y2="650.3" stroke="#555" stroke-width="0.9" />
<circle cx="779.8" cy="650.3" r="2.1" fill="#111"/>
<text x="825" y="653" font-size="9.6" text-anchor="start" fill="#333" font-weight="normal" textLength="114" lengthAdjust="spacingAndGlyphs" >Hő- és füstelvezető kupola</text>
<text x="420" y="439.8" font-size="11.4" text-anchor="middle" fill="#333" font-weight="normal" textLength="61" lengthAdjust="spacingAndGlyphs" >ZÖLDTETŐ</text>
<text x="420.2" y="451.2" font-size="11.4" text-anchor="middle" fill="#333" font-weight="normal" textLength="97.2" lengthAdjust="spacingAndGlyphs" >extenzív növényzet</text>
<text x="420.3" y="462.9" font-size="11.4" text-anchor="middle" fill="#333">98,00 m<tspan font-size="6.5" dy="-4.5">2</tspan></text>
<text x="936" y="305.5" font-size="11.4" text-anchor="middle" fill="#333" font-weight="normal" textLength="69" lengthAdjust="spacingAndGlyphs" >LAPOSTETŐ</text>
<text x="936" y="317.9" font-size="11.4" text-anchor="middle" fill="#333" font-weight="normal" textLength="69" lengthAdjust="spacingAndGlyphs" >mosott kavics</text>
<text x="936.5" y="329.2" font-size="11.4" text-anchor="middle" fill="#333">108,92 m<tspan font-size="6.5" dy="-4.5">2</tspan></text>
<polyline points="118.5,462.5 118.5,487.5 147,487.5" fill="none" stroke="#333" stroke-width="1.3" />
<text x="99.5" y="482.6" font-size="16.5" text-anchor="start" fill="#333" font-weight="normal" >A</text>
<polyline points="1214,462.5 1214,487.5 1190,487.5" fill="none" stroke="#333" stroke-width="1.3" />
<text x="1221.5" y="482.6" font-size="16.5" text-anchor="start" fill="#333" font-weight="normal" >A</text>
<text x="121.4" y="630" font-size="14.3" text-anchor="middle" fill="#111" font-weight="bold" textLength="201" lengthAdjust="spacingAndGlyphs" transform="rotate(-90 121.4 630)" >SZOMSZÉDOS LAKÓÉPÜLET</text>
<text x="1224.5" y="630" font-size="14.3" text-anchor="middle" fill="#111" font-weight="bold" textLength="201" lengthAdjust="spacingAndGlyphs" transform="rotate(-90 1224.5 630)" >SZOMSZÉDOS LAKÓÉPÜLET</text>
<line x1="155.5" y1="168" x2="155.5" y2="815" stroke="#777" stroke-width="0.9" />
<line x1="176.3" y1="258.8" x2="176.3" y2="737.6" stroke="#333" stroke-width="1.1" />
<line x1="197.2" y1="258.8" x2="197.2" y2="737.6" stroke="#888" stroke-width="1.1" />
<line x1="218.1" y1="258.8" x2="218.1" y2="737.6" stroke="#666" stroke-width="1.3" />
<line x1="150.5" y1="168.3" x2="160.5" y2="168.3" stroke="#333" stroke-width="0.8" />
<path d="M155.5,166.5 L156.8,168.3 L155.5,170.10000000000002 L154.2,168.3 Z" fill="#111"/>
<line x1="150.5" y1="258.8" x2="160.5" y2="258.8" stroke="#333" stroke-width="0.8" />
<path d="M155.5,257.0 L156.8,258.8 L155.5,260.6 L154.2,258.8 Z" fill="#111"/>
<line x1="150.5" y1="737.6" x2="160.5" y2="737.6" stroke="#333" stroke-width="0.8" />
<path d="M155.5,735.8000000000001 L156.8,737.6 L155.5,739.4 L154.2,737.6 Z" fill="#111"/>
<line x1="150.5" y1="815" x2="160.5" y2="815" stroke="#333" stroke-width="0.8" />
<path d="M155.5,813.2 L156.8,815 L155.5,816.8 L154.2,815 Z" fill="#111"/>
<line x1="171.3" y1="258.8" x2="181.3" y2="258.8" stroke="#333" stroke-width="0.8" />
<path d="M176.3,257.0 L177.60000000000002,258.8 L176.3,260.6 L175.0,258.8 Z" fill="#111"/>
<line x1="171.3" y1="275.4" x2="181.3" y2="275.4" stroke="#333" stroke-width="0.8" />
<path d="M176.3,273.59999999999997 L177.60000000000002,275.4 L176.3,277.2 L175.0,275.4 Z" fill="#111"/>
<line x1="171.3" y1="471.1" x2="181.3" y2="471.1" stroke="#333" stroke-width="0.8" />
<path d="M176.3,469.3 L177.60000000000002,471.1 L176.3,472.90000000000003 L175.0,471.1 Z" fill="#111"/>
<line x1="171.3" y1="562" x2="181.3" y2="562" stroke="#333" stroke-width="0.8" />
<path d="M176.3,560.2 L177.60000000000002,562 L176.3,563.8 L175.0,562 Z" fill="#111"/>
<line x1="171.3" y1="720.9" x2="181.3" y2="720.9" stroke="#333" stroke-width="0.8" />
<path d="M176.3,719.1 L177.60000000000002,720.9 L176.3,722.6999999999999 L175.0,720.9 Z" fill="#111"/>
<line x1="171.3" y1="737.6" x2="181.3" y2="737.6" stroke="#333" stroke-width="0.8" />
<path d="M176.3,735.8000000000001 L177.60000000000002,737.6 L176.3,739.4 L175.0,737.6 Z" fill="#111"/>
<line x1="192.2" y1="258.8" x2="202.2" y2="258.8" stroke="#333" stroke-width="0.8" />
<path d="M197.2,257.0 L198.5,258.8 L197.2,260.6 L195.89999999999998,258.8 Z" fill="#111"/>
<line x1="192.2" y1="263" x2="202.2" y2="263" stroke="#333" stroke-width="0.8" />
<path d="M197.2,261.2 L198.5,263 L197.2,264.8 L195.89999999999998,263 Z" fill="#111"/>
<line x1="192.2" y1="271.8" x2="202.2" y2="271.8" stroke="#333" stroke-width="0.8" />
<path d="M197.2,270.0 L198.5,271.8 L197.2,273.6 L195.89999999999998,271.8 Z" fill="#111"/>
<line x1="192.2" y1="275.6" x2="202.2" y2="275.6" stroke="#333" stroke-width="0.8" />
<path d="M197.2,273.8 L198.5,275.6 L197.2,277.40000000000003 L195.89999999999998,275.6 Z" fill="#111"/>
<line x1="192.2" y1="471.1" x2="202.2" y2="471.1" stroke="#333" stroke-width="0.8" />
<path d="M197.2,469.3 L198.5,471.1 L197.2,472.90000000000003 L195.89999999999998,471.1 Z" fill="#111"/>
<line x1="192.2" y1="475.2" x2="202.2" y2="475.2" stroke="#333" stroke-width="0.8" />
<path d="M197.2,473.4 L198.5,475.2 L197.2,477.0 L195.89999999999998,475.2 Z" fill="#111"/>
<line x1="192.2" y1="481.6" x2="202.2" y2="481.6" stroke="#333" stroke-width="0.8" />
<path d="M197.2,479.8 L198.5,481.6 L197.2,483.40000000000003 L195.89999999999998,481.6 Z" fill="#111"/>
<line x1="192.2" y1="551.8" x2="202.2" y2="551.8" stroke="#333" stroke-width="0.8" />
<path d="M197.2,550.0 L198.5,551.8 L197.2,553.5999999999999 L195.89999999999998,551.8 Z" fill="#111"/>
<line x1="192.2" y1="557.8" x2="202.2" y2="557.8" stroke="#333" stroke-width="0.8" />
<path d="M197.2,556.0 L198.5,557.8 L197.2,559.5999999999999 L195.89999999999998,557.8 Z" fill="#111"/>
<line x1="192.2" y1="562" x2="202.2" y2="562" stroke="#333" stroke-width="0.8" />
<path d="M197.2,560.2 L198.5,562 L197.2,563.8 L195.89999999999998,562 Z" fill="#111"/>
<line x1="192.2" y1="720.9" x2="202.2" y2="720.9" stroke="#333" stroke-width="0.8" />
<path d="M197.2,719.1 L198.5,720.9 L197.2,722.6999999999999 L195.89999999999998,720.9 Z" fill="#111"/>
<line x1="192.2" y1="725" x2="202.2" y2="725" stroke="#333" stroke-width="0.8" />
<path d="M197.2,723.2 L198.5,725 L197.2,726.8 L195.89999999999998,725 Z" fill="#111"/>
<line x1="192.2" y1="733.5" x2="202.2" y2="733.5" stroke="#333" stroke-width="0.8" />
<path d="M197.2,731.7 L198.5,733.5 L197.2,735.3 L195.89999999999998,733.5 Z" fill="#111"/>
<line x1="192.2" y1="737.6" x2="202.2" y2="737.6" stroke="#333" stroke-width="0.8" />
<path d="M197.2,735.8000000000001 L198.5,737.6 L197.2,739.4 L195.89999999999998,737.6 Z" fill="#111"/>
<line x1="213.1" y1="258.8" x2="223.1" y2="258.8" stroke="#333" stroke-width="0.8" />
<path d="M218.1,257.0 L219.4,258.8 L218.1,260.6 L216.79999999999998,258.8 Z" fill="#111"/>
<line x1="213.1" y1="263" x2="223.1" y2="263" stroke="#333" stroke-width="0.8" />
<path d="M218.1,261.2 L219.4,263 L218.1,264.8 L216.79999999999998,263 Z" fill="#111"/>
<line x1="213.1" y1="271.8" x2="223.1" y2="271.8" stroke="#333" stroke-width="0.8" />
<path d="M218.1,270.0 L219.4,271.8 L218.1,273.6 L216.79999999999998,271.8 Z" fill="#111"/>
<line x1="213.1" y1="275.6" x2="223.1" y2="275.6" stroke="#333" stroke-width="0.8" />
<path d="M218.1,273.8 L219.4,275.6 L218.1,277.40000000000003 L216.79999999999998,275.6 Z" fill="#111"/>
<line x1="213.1" y1="474.7" x2="223.1" y2="474.7" stroke="#333" stroke-width="0.8" />
<path d="M218.1,472.9 L219.4,474.7 L218.1,476.5 L216.79999999999998,474.7 Z" fill="#111"/>
<line x1="213.1" y1="478.7" x2="223.1" y2="478.7" stroke="#333" stroke-width="0.8" />
<path d="M218.1,476.9 L219.4,478.7 L218.1,480.5 L216.79999999999998,478.7 Z" fill="#111"/>
<line x1="213.1" y1="484.7" x2="223.1" y2="484.7" stroke="#333" stroke-width="0.8" />
<path d="M218.1,482.9 L219.4,484.7 L218.1,486.5 L216.79999999999998,484.7 Z" fill="#111"/>
<line x1="213.1" y1="539.3" x2="223.1" y2="539.3" stroke="#333" stroke-width="0.8" />
<path d="M218.1,537.5 L219.4,539.3 L218.1,541.0999999999999 L216.79999999999998,539.3 Z" fill="#111"/>
<line x1="213.1" y1="545.5" x2="223.1" y2="545.5" stroke="#333" stroke-width="0.8" />
<path d="M218.1,543.7 L219.4,545.5 L218.1,547.3 L216.79999999999998,545.5 Z" fill="#111"/>
<line x1="213.1" y1="549.5" x2="223.1" y2="549.5" stroke="#333" stroke-width="0.8" />
<path d="M218.1,547.7 L219.4,549.5 L218.1,551.3 L216.79999999999998,549.5 Z" fill="#111"/>
<line x1="213.1" y1="720.9" x2="223.1" y2="720.9" stroke="#333" stroke-width="0.8" />
<path d="M218.1,719.1 L219.4,720.9 L218.1,722.6999999999999 L216.79999999999998,720.9 Z" fill="#111"/>
<line x1="213.1" y1="725" x2="223.1" y2="725" stroke="#333" stroke-width="0.8" />
<path d="M218.1,723.2 L219.4,725 L218.1,726.8 L216.79999999999998,725 Z" fill="#111"/>
<line x1="213.1" y1="733.5" x2="223.1" y2="733.5" stroke="#333" stroke-width="0.8" />
<path d="M218.1,731.7 L219.4,733.5 L218.1,735.3 L216.79999999999998,733.5 Z" fill="#111"/>
<line x1="213.1" y1="737.6" x2="223.1" y2="737.6" stroke="#333" stroke-width="0.8" />
<path d="M218.1,735.8000000000001 L219.4,737.6 L218.1,739.4 L216.79999999999998,737.6 Z" fill="#111"/>
<text x="153.3" y="213" font-size="9.0" text-anchor="middle" fill="#333" textLength="19.5" lengthAdjust="spacingAndGlyphs" transform="rotate(-90 153.3 213)">2,15</text>
<text x="153.3" y="498" font-size="9.0" text-anchor="middle" fill="#333" textLength="24.5" lengthAdjust="spacingAndGlyphs" transform="rotate(-90 153.3 498)">11,45</text>
<text x="153.3" y="776" font-size="9.0" text-anchor="middle" fill="#333" textLength="19.5" lengthAdjust="spacingAndGlyphs" transform="rotate(-90 153.3 776)">1,85</text>
<text x="174.10000000000002" y="267" font-size="9.0" text-anchor="middle" fill="#333" transform="rotate(-90 174.10000000000002 267)">40</text>
<text x="184.8" y="267" font-size="9.0" text-anchor="middle" fill="#333" transform="rotate(-90 184.8 267)">20</text>
<g transform="translate(174.10000000000002 374.2) rotate(-90)" fill="#333"><text x="-11.3" y="0" font-size="9.0" textLength="19.5" lengthAdjust="spacingAndGlyphs">4,67</text><text x="8.5" y="-3.6" font-size="5.6">5</text></g>
<g transform="translate(174.10000000000002 516) rotate(-90)" fill="#333"><text x="-11.3" y="0" font-size="9.0" textLength="19.5" lengthAdjust="spacingAndGlyphs">2,17</text><text x="8.5" y="-3.6" font-size="5.6">5</text></g>
<text x="174.10000000000002" y="641.6" font-size="9.0" text-anchor="middle" fill="#333" textLength="19.5" lengthAdjust="spacingAndGlyphs" transform="rotate(-90 174.10000000000002 641.6)">3,80</text>
<text x="174.10000000000002" y="729.3" font-size="9.0" text-anchor="middle" fill="#333" transform="rotate(-90 174.10000000000002 729.3)">40</text>
<text x="184.8" y="729.3" font-size="9.0" text-anchor="middle" fill="#333" transform="rotate(-90 184.8 729.3)">20</text>
<text x="195.0" y="252" font-size="9.0" text-anchor="middle" fill="#333" transform="rotate(-90 195.0 252)">10</text>
<text x="205.7" y="267" font-size="9.0" text-anchor="middle" fill="#333" transform="rotate(-90 205.7 267)">20</text>
<text x="195.0" y="281.5" font-size="9.0" text-anchor="middle" fill="#333" transform="rotate(-90 195.0 281.5)">10</text>
<g transform="translate(195.0 374.2) rotate(-90)" fill="#333"><text x="-11.3" y="0" font-size="9.0" textLength="19.5" lengthAdjust="spacingAndGlyphs">4,67</text><text x="8.5" y="-3.6" font-size="5.6">5</text></g>
<text x="195.0" y="464" font-size="9.0" text-anchor="middle" fill="#333" transform="rotate(-90 195.0 464)">10</text>
<text x="195.0" y="487" font-size="9.0" text-anchor="middle" fill="#333" transform="rotate(-90 195.0 487)">15</text>
<text x="205.7" y="480.5" font-size="9.0" text-anchor="middle" fill="#333" transform="rotate(-90 205.7 480.5)">15</text>
<g transform="translate(195.0 516) rotate(-90)" fill="#333"><text x="-11.3" y="0" font-size="9.0" textLength="19.5" lengthAdjust="spacingAndGlyphs">1,67</text><text x="8.5" y="-3.6" font-size="5.6">5</text></g>
<text x="195.0" y="545" font-size="9.0" text-anchor="middle" fill="#333" transform="rotate(-90 195.0 545)">15</text>
<text x="195.0" y="568" font-size="9.0" text-anchor="middle" fill="#333" transform="rotate(-90 195.0 568)">10</text>
<text x="195.0" y="641.6" font-size="9.0" text-anchor="middle" fill="#333" textLength="19.5" lengthAdjust="spacingAndGlyphs" transform="rotate(-90 195.0 641.6)">3,80</text>
<text x="195.0" y="714" font-size="9.0" text-anchor="middle" fill="#333" transform="rotate(-90 195.0 714)">10</text>
<text x="205.7" y="729.3" font-size="9.0" text-anchor="middle" fill="#333" transform="rotate(-90 205.7 729.3)">20</text>
<text x="195.0" y="743.5" font-size="9.0" text-anchor="middle" fill="#333" transform="rotate(-90 195.0 743.5)">10</text>
<text x="215.9" y="252" font-size="9.0" text-anchor="middle" fill="#333" transform="rotate(-90 215.9 252)">10</text>
<text x="215.9" y="281.5" font-size="9.0" text-anchor="middle" fill="#333" transform="rotate(-90 215.9 281.5)">10</text>
<text x="215.9" y="375.6" font-size="9.0" text-anchor="middle" fill="#333" textLength="19.5" lengthAdjust="spacingAndGlyphs" transform="rotate(-90 215.9 375.6)">4,75</text>
<text x="215.9" y="467" font-size="9.0" text-anchor="middle" fill="#333" transform="rotate(-90 215.9 467)">10</text>
<text x="215.9" y="506.5" font-size="9.0" text-anchor="middle" fill="#333" textLength="19.5" lengthAdjust="spacingAndGlyphs" transform="rotate(-90 215.9 506.5)">1,30</text>
<text x="215.9" y="531.5" font-size="9.0" text-anchor="middle" fill="#333" transform="rotate(-90 215.9 531.5)">15</text>
<text x="215.9" y="556" font-size="9.0" text-anchor="middle" fill="#333" transform="rotate(-90 215.9 556)">10</text>
<text x="215.9" y="635.7" font-size="9.0" text-anchor="middle" fill="#333" textLength="19.5" lengthAdjust="spacingAndGlyphs" transform="rotate(-90 215.9 635.7)">4,10</text>
<text x="215.9" y="714" font-size="9.0" text-anchor="middle" fill="#333" transform="rotate(-90 215.9 714)">10</text>
<text x="215.9" y="743.5" font-size="9.0" text-anchor="middle" fill="#333" transform="rotate(-90 215.9 743.5)">10</text>
<line x1="1137.8" y1="206.6" x2="1137.8" y2="738" stroke="#777" stroke-width="1.3" />
<line x1="1158.9" y1="206.6" x2="1158.9" y2="738" stroke="#666" stroke-width="1.3" />
<line x1="1179.5" y1="206.6" x2="1179.5" y2="738" stroke="#777" stroke-width="0.9" />
<line x1="1200.4" y1="122.4" x2="1200.4" y2="816.8" stroke="#444" stroke-width="0.9" />
<line x1="1195.4" y1="122.4" x2="1205.4" y2="122.4" stroke="#333" stroke-width="0.8" />
<path d="M1200.4,120.60000000000001 L1201.7,122.4 L1200.4,124.2 L1199.1000000000001,122.4 Z" fill="#111"/>
<line x1="1195.4" y1="206.6" x2="1205.4" y2="206.6" stroke="#333" stroke-width="0.8" />
<path d="M1200.4,204.79999999999998 L1201.7,206.6 L1200.4,208.4 L1199.1000000000001,206.6 Z" fill="#111"/>
<line x1="1195.4" y1="738" x2="1205.4" y2="738" stroke="#333" stroke-width="0.8" />
<path d="M1200.4,736.2 L1201.7,738 L1200.4,739.8 L1199.1000000000001,738 Z" fill="#111"/>
<line x1="1195.4" y1="816.8" x2="1205.4" y2="816.8" stroke="#333" stroke-width="0.8" />
<path d="M1200.4,815.0 L1201.7,816.8 L1200.4,818.5999999999999 L1199.1000000000001,816.8 Z" fill="#111"/>
<line x1="1174.5" y1="206.6" x2="1184.5" y2="206.6" stroke="#333" stroke-width="0.8" />
<path d="M1179.5,204.79999999999998 L1180.8,206.6 L1179.5,208.4 L1178.2,206.6 Z" fill="#111"/>
<line x1="1174.5" y1="223.4" x2="1184.5" y2="223.4" stroke="#333" stroke-width="0.8" />
<path d="M1179.5,221.6 L1180.8,223.4 L1179.5,225.20000000000002 L1178.2,223.4 Z" fill="#111"/>
<line x1="1174.5" y1="306.9" x2="1184.5" y2="306.9" stroke="#333" stroke-width="0.8" />
<path d="M1179.5,305.09999999999997 L1180.8,306.9 L1179.5,308.7 L1178.2,306.9 Z" fill="#111"/>
<line x1="1174.5" y1="365.5" x2="1184.5" y2="365.5" stroke="#333" stroke-width="0.8" />
<path d="M1179.5,363.7 L1180.8,365.5 L1179.5,367.3 L1178.2,365.5 Z" fill="#111"/>
<line x1="1174.5" y1="721.6" x2="1184.5" y2="721.6" stroke="#333" stroke-width="0.8" />
<path d="M1179.5,719.8000000000001 L1180.8,721.6 L1179.5,723.4 L1178.2,721.6 Z" fill="#111"/>
<line x1="1174.5" y1="738" x2="1184.5" y2="738" stroke="#333" stroke-width="0.8" />
<path d="M1179.5,736.2 L1180.8,738 L1179.5,739.8 L1178.2,738 Z" fill="#111"/>
<line x1="1153.9" y1="206.6" x2="1163.9" y2="206.6" stroke="#333" stroke-width="0.8" />
<path d="M1158.9,204.79999999999998 L1160.2,206.6 L1158.9,208.4 L1157.6000000000001,206.6 Z" fill="#111"/>
<line x1="1153.9" y1="210.5" x2="1163.9" y2="210.5" stroke="#333" stroke-width="0.8" />
<path d="M1158.9,208.7 L1160.2,210.5 L1158.9,212.3 L1157.6000000000001,210.5 Z" fill="#111"/>
<line x1="1153.9" y1="219.3" x2="1163.9" y2="219.3" stroke="#333" stroke-width="0.8" />
<path d="M1158.9,217.5 L1160.2,219.3 L1158.9,221.10000000000002 L1157.6000000000001,219.3 Z" fill="#111"/>
<line x1="1153.9" y1="223.4" x2="1163.9" y2="223.4" stroke="#333" stroke-width="0.8" />
<path d="M1158.9,221.6 L1160.2,223.4 L1158.9,225.20000000000002 L1157.6000000000001,223.4 Z" fill="#111"/>
<line x1="1153.9" y1="306.9" x2="1163.9" y2="306.9" stroke="#333" stroke-width="0.8" />
<path d="M1158.9,305.09999999999997 L1160.2,306.9 L1158.9,308.7 L1157.6000000000001,306.9 Z" fill="#111"/>
<line x1="1153.9" y1="311" x2="1163.9" y2="311" stroke="#333" stroke-width="0.8" />
<path d="M1158.9,309.2 L1160.2,311 L1158.9,312.8 L1157.6000000000001,311 Z" fill="#111"/>
<line x1="1153.9" y1="317.5" x2="1163.9" y2="317.5" stroke="#333" stroke-width="0.8" />
<path d="M1158.9,315.7 L1160.2,317.5 L1158.9,319.3 L1157.6000000000001,317.5 Z" fill="#111"/>
<line x1="1153.9" y1="354.9" x2="1163.9" y2="354.9" stroke="#333" stroke-width="0.8" />
<path d="M1158.9,353.09999999999997 L1160.2,354.9 L1158.9,356.7 L1157.6000000000001,354.9 Z" fill="#111"/>
<line x1="1153.9" y1="361.5" x2="1163.9" y2="361.5" stroke="#333" stroke-width="0.8" />
<path d="M1158.9,359.7 L1160.2,361.5 L1158.9,363.3 L1157.6000000000001,361.5 Z" fill="#111"/>
<line x1="1153.9" y1="365.5" x2="1163.9" y2="365.5" stroke="#333" stroke-width="0.8" />
<path d="M1158.9,363.7 L1160.2,365.5 L1158.9,367.3 L1157.6000000000001,365.5 Z" fill="#111"/>
<line x1="1153.9" y1="721.6" x2="1163.9" y2="721.6" stroke="#333" stroke-width="0.8" />
<path d="M1158.9,719.8000000000001 L1160.2,721.6 L1158.9,723.4 L1157.6000000000001,721.6 Z" fill="#111"/>
<line x1="1153.9" y1="725.6" x2="1163.9" y2="725.6" stroke="#333" stroke-width="0.8" />
<path d="M1158.9,723.8000000000001 L1160.2,725.6 L1158.9,727.4 L1157.6000000000001,725.6 Z" fill="#111"/>
<line x1="1153.9" y1="733.9" x2="1163.9" y2="733.9" stroke="#333" stroke-width="0.8" />
<path d="M1158.9,732.1 L1160.2,733.9 L1158.9,735.6999999999999 L1157.6000000000001,733.9 Z" fill="#111"/>
<line x1="1153.9" y1="738" x2="1163.9" y2="738" stroke="#333" stroke-width="0.8" />
<path d="M1158.9,736.2 L1160.2,738 L1158.9,739.8 L1157.6000000000001,738 Z" fill="#111"/>
<line x1="1132.8" y1="206.6" x2="1142.8" y2="206.6" stroke="#333" stroke-width="0.8" />
<path d="M1137.8,204.79999999999998 L1139.1,206.6 L1137.8,208.4 L1136.5,206.6 Z" fill="#111"/>
<line x1="1132.8" y1="210.5" x2="1142.8" y2="210.5" stroke="#333" stroke-width="0.8" />
<path d="M1137.8,208.7 L1139.1,210.5 L1137.8,212.3 L1136.5,210.5 Z" fill="#111"/>
<line x1="1132.8" y1="219.3" x2="1142.8" y2="219.3" stroke="#333" stroke-width="0.8" />
<path d="M1137.8,217.5 L1139.1,219.3 L1137.8,221.10000000000002 L1136.5,219.3 Z" fill="#111"/>
<line x1="1132.8" y1="223.4" x2="1142.8" y2="223.4" stroke="#333" stroke-width="0.8" />
<path d="M1137.8,221.6 L1139.1,223.4 L1137.8,225.20000000000002 L1136.5,223.4 Z" fill="#111"/>
<line x1="1132.8" y1="364.7" x2="1142.8" y2="364.7" stroke="#333" stroke-width="0.8" />
<path d="M1137.8,362.9 L1139.1,364.7 L1137.8,366.5 L1136.5,364.7 Z" fill="#111"/>
<line x1="1132.8" y1="368.6" x2="1142.8" y2="368.6" stroke="#333" stroke-width="0.8" />
<path d="M1137.8,366.8 L1139.1,368.6 L1137.8,370.40000000000003 L1136.5,368.6 Z" fill="#111"/>
<line x1="1132.8" y1="376" x2="1142.8" y2="376" stroke="#333" stroke-width="0.8" />
<path d="M1137.8,374.2 L1139.1,376 L1137.8,377.8 L1136.5,376 Z" fill="#111"/>
<line x1="1132.8" y1="445" x2="1142.8" y2="445" stroke="#333" stroke-width="0.8" />
<path d="M1137.8,443.2 L1139.1,445 L1137.8,446.8 L1136.5,445 Z" fill="#111"/>
<line x1="1132.8" y1="452.5" x2="1142.8" y2="452.5" stroke="#333" stroke-width="0.8" />
<path d="M1137.8,450.7 L1139.1,452.5 L1137.8,454.3 L1136.5,452.5 Z" fill="#111"/>
<line x1="1132.8" y1="457" x2="1142.8" y2="457" stroke="#333" stroke-width="0.8" />
<path d="M1137.8,455.2 L1139.1,457 L1137.8,458.8 L1136.5,457 Z" fill="#111"/>
<line x1="1132.8" y1="614.6" x2="1142.8" y2="614.6" stroke="#333" stroke-width="0.8" />
<path d="M1137.8,612.8000000000001 L1139.1,614.6 L1137.8,616.4 L1136.5,614.6 Z" fill="#111"/>
<line x1="1132.8" y1="620.6" x2="1142.8" y2="620.6" stroke="#333" stroke-width="0.8" />
<path d="M1137.8,618.8000000000001 L1139.1,620.6 L1137.8,622.4 L1136.5,620.6 Z" fill="#111"/>
<line x1="1132.8" y1="670.9" x2="1142.8" y2="670.9" stroke="#333" stroke-width="0.8" />
<path d="M1137.8,669.1 L1139.1,670.9 L1137.8,672.6999999999999 L1136.5,670.9 Z" fill="#111"/>
<line x1="1132.8" y1="677.3" x2="1142.8" y2="677.3" stroke="#333" stroke-width="0.8" />
<path d="M1137.8,675.5 L1139.1,677.3 L1137.8,679.0999999999999 L1136.5,677.3 Z" fill="#111"/>
<line x1="1132.8" y1="721.6" x2="1142.8" y2="721.6" stroke="#333" stroke-width="0.8" />
<path d="M1137.8,719.8000000000001 L1139.1,721.6 L1137.8,723.4 L1136.5,721.6 Z" fill="#111"/>
<line x1="1132.8" y1="725.6" x2="1142.8" y2="725.6" stroke="#333" stroke-width="0.8" />
<path d="M1137.8,723.8000000000001 L1139.1,725.6 L1137.8,727.4 L1136.5,725.6 Z" fill="#111"/>
<line x1="1132.8" y1="733.9" x2="1142.8" y2="733.9" stroke="#333" stroke-width="0.8" />
<path d="M1137.8,732.1 L1139.1,733.9 L1137.8,735.6999999999999 L1136.5,733.9 Z" fill="#111"/>
<line x1="1132.8" y1="738" x2="1142.8" y2="738" stroke="#333" stroke-width="0.8" />
<path d="M1137.8,736.2 L1139.1,738 L1137.8,739.8 L1136.5,738 Z" fill="#111"/>
<text x="1198.2" y="165" font-size="9.0" text-anchor="middle" fill="#333" textLength="19.5" lengthAdjust="spacingAndGlyphs" transform="rotate(-90 1198.2 165)">2,00</text>
<text x="1198.2" y="470" font-size="9.0" text-anchor="middle" fill="#333" textLength="24.5" lengthAdjust="spacingAndGlyphs" transform="rotate(-90 1198.2 470)">12,70</text>
<text x="1198.2" y="777" font-size="9.0" text-anchor="middle" fill="#333" textLength="19.5" lengthAdjust="spacingAndGlyphs" transform="rotate(-90 1198.2 777)">1,85</text>
<text x="1177.3" y="215" font-size="9.0" text-anchor="middle" fill="#333" transform="rotate(-90 1177.3 215)">40</text>
<text x="1177.3" y="265" font-size="9.0" text-anchor="middle" fill="#333" textLength="19.5" lengthAdjust="spacingAndGlyphs" transform="rotate(-90 1177.3 265)">2,00</text>
<text x="1177.3" y="336" font-size="9.0" text-anchor="middle" fill="#333" textLength="19.5" lengthAdjust="spacingAndGlyphs" transform="rotate(-90 1177.3 336)">1,40</text>
<text x="1177.3" y="543" font-size="9.0" text-anchor="middle" fill="#333" textLength="19.5" lengthAdjust="spacingAndGlyphs" transform="rotate(-90 1177.3 543)">8,50</text>
<text x="1177.3" y="730" font-size="9.0" text-anchor="middle" fill="#333" transform="rotate(-90 1177.3 730)">40</text>
<text x="1156.7" y="200" font-size="9.0" text-anchor="middle" fill="#333" transform="rotate(-90 1156.7 200)">10</text>
<text x="1146.4" y="215" font-size="9.0" text-anchor="middle" fill="#333" transform="rotate(-90 1146.4 215)">20</text>
<text x="1156.7" y="231" font-size="9.0" text-anchor="middle" fill="#333" transform="rotate(-90 1156.7 231)">10</text>
<text x="1156.7" y="265" font-size="9.0" text-anchor="middle" fill="#333" textLength="19.5" lengthAdjust="spacingAndGlyphs" transform="rotate(-90 1156.7 265)">2,00</text>
<text x="1156.7" y="300" font-size="9.0" text-anchor="middle" fill="#333" transform="rotate(-90 1156.7 300)">10</text>
<text x="1146.4" y="313" font-size="9.0" text-anchor="middle" fill="#333" transform="rotate(-90 1146.4 313)">15</text>
<text x="1156.7" y="331" font-size="9.0" text-anchor="middle" fill="#333" transform="rotate(-90 1156.7 331)">50</text>
<text x="1156.7" y="346" font-size="9.0" text-anchor="middle" fill="#333" transform="rotate(-90 1156.7 346)">15</text>
<text x="1156.7" y="372" font-size="9.0" text-anchor="middle" fill="#333" transform="rotate(-90 1156.7 372)">10</text>
<text x="1156.7" y="543" font-size="9.0" text-anchor="middle" fill="#333" textLength="19.5" lengthAdjust="spacingAndGlyphs" transform="rotate(-90 1156.7 543)">8,50</text>
<text x="1156.7" y="715" font-size="9.0" text-anchor="middle" fill="#333" transform="rotate(-90 1156.7 715)">10</text>
<text x="1146.4" y="730" font-size="9.0" text-anchor="middle" fill="#333" transform="rotate(-90 1146.4 730)">20</text>
<text x="1156.7" y="744" font-size="9.0" text-anchor="middle" fill="#333" transform="rotate(-90 1156.7 744)">10</text>
<text x="1135.6" y="200" font-size="9.0" text-anchor="middle" fill="#333" transform="rotate(-90 1135.6 200)">10</text>
<text x="1125.3" y="215" font-size="9.0" text-anchor="middle" fill="#333" transform="rotate(-90 1125.3 215)">20</text>
<text x="1135.6" y="231" font-size="9.0" text-anchor="middle" fill="#333" transform="rotate(-90 1135.6 231)">10</text>
<text x="1135.6" y="294" font-size="9.0" text-anchor="middle" fill="#333" textLength="19.5" lengthAdjust="spacingAndGlyphs" transform="rotate(-90 1135.6 294)">3,37</text>
<text x="1135.6" y="357" font-size="9.0" text-anchor="middle" fill="#333" transform="rotate(-90 1135.6 357)">10</text>
<text x="1135.6" y="382" font-size="9.0" text-anchor="middle" fill="#333" transform="rotate(-90 1135.6 382)">18</text>
<text x="1135.6" y="410" font-size="9.0" text-anchor="middle" fill="#333" textLength="19.5" lengthAdjust="spacingAndGlyphs" transform="rotate(-90 1135.6 410)">1,65</text>
<text x="1135.6" y="438" font-size="9.0" text-anchor="middle" fill="#333" transform="rotate(-90 1135.6 438)">18</text>
<text x="1135.6" y="465" font-size="9.0" text-anchor="middle" fill="#333" transform="rotate(-90 1135.6 465)">10</text>
<text x="1135.6" y="535.5" font-size="9.0" text-anchor="middle" fill="#333" textLength="19.5" lengthAdjust="spacingAndGlyphs" transform="rotate(-90 1135.6 535.5)">3,77</text>
<text x="1135.6" y="609" font-size="9.0" text-anchor="middle" fill="#333" transform="rotate(-90 1135.6 609)">15</text>
<text x="1135.6" y="640" font-size="9.0" text-anchor="middle" fill="#333" textLength="19.5" lengthAdjust="spacingAndGlyphs" transform="rotate(-90 1135.6 640)">1,20</text>
<text x="1135.6" y="665" font-size="9.0" text-anchor="middle" fill="#333" transform="rotate(-90 1135.6 665)">15</text>
<text x="1135.6" y="690" font-size="9.0" text-anchor="middle" fill="#333" textLength="19.5" lengthAdjust="spacingAndGlyphs" transform="rotate(-90 1135.6 690)">1,05</text>
<text x="1135.6" y="715" font-size="9.0" text-anchor="middle" fill="#333" transform="rotate(-90 1135.6 715)">10</text>
<text x="1125.3" y="730" font-size="9.0" text-anchor="middle" fill="#333" transform="rotate(-90 1125.3 730)">20</text>
<text x="1135.6" y="744" font-size="9.0" text-anchor="middle" fill="#333" transform="rotate(-90 1135.6 744)">10</text>
<line x1="233" y1="913.9" x2="1122" y2="913.9" stroke="#c4c4c4" stroke-width="1.3" />
<line x1="240.4" y1="935.2" x2="1115" y2="935.2" stroke="#c4c4c4" stroke-width="2.2" />
<line x1="236" y1="956.6" x2="1115" y2="956.6" stroke="#c4c4c4" stroke-width="1.3" />
<line x1="240.4" y1="977.1" x2="1115" y2="977.1" stroke="#444" stroke-width="0.9" />
<line x1="240.4" y1="909.4" x2="240.4" y2="918.4" stroke="#999" stroke-width="0.8" />
<rect x="239.3" y="912.8" width="2.2" height="2.2" fill="#111"/>
<line x1="244.2" y1="909.4" x2="244.2" y2="918.4" stroke="#999" stroke-width="0.8" />
<rect x="243.1" y="912.8" width="2.2" height="2.2" fill="#111"/>
<line x1="253.3" y1="909.4" x2="253.3" y2="918.4" stroke="#999" stroke-width="0.8" />
<rect x="252.20000000000002" y="912.8" width="2.2" height="2.2" fill="#111"/>
<line x1="257.3" y1="909.4" x2="257.3" y2="918.4" stroke="#999" stroke-width="0.8" />
<rect x="256.2" y="912.8" width="2.2" height="2.2" fill="#111"/>
<line x1="737.5" y1="909.4" x2="737.5" y2="918.4" stroke="#999" stroke-width="0.8" />
<rect x="736.4" y="912.8" width="2.2" height="2.2" fill="#111"/>
<line x1="743.6" y1="909.4" x2="743.6" y2="918.4" stroke="#999" stroke-width="0.8" />
<rect x="742.5" y="912.8" width="2.2" height="2.2" fill="#111"/>
<line x1="793.8" y1="909.4" x2="793.8" y2="918.4" stroke="#999" stroke-width="0.8" />
<rect x="792.6999999999999" y="912.8" width="2.2" height="2.2" fill="#111"/>
<line x1="800.1" y1="909.4" x2="800.1" y2="918.4" stroke="#999" stroke-width="0.8" />
<rect x="799.0" y="912.8" width="2.2" height="2.2" fill="#111"/>
<line x1="1097.5" y1="909.4" x2="1097.5" y2="918.4" stroke="#999" stroke-width="0.8" />
<rect x="1096.4" y="912.8" width="2.2" height="2.2" fill="#111"/>
<line x1="1101.5" y1="909.4" x2="1101.5" y2="918.4" stroke="#999" stroke-width="0.8" />
<rect x="1100.4" y="912.8" width="2.2" height="2.2" fill="#111"/>
<line x1="1110.5" y1="909.4" x2="1110.5" y2="918.4" stroke="#999" stroke-width="0.8" />
<rect x="1109.4" y="912.8" width="2.2" height="2.2" fill="#111"/>
<line x1="1114.6" y1="909.4" x2="1114.6" y2="918.4" stroke="#999" stroke-width="0.8" />
<rect x="1113.5" y="912.8" width="2.2" height="2.2" fill="#111"/>
<line x1="240.4" y1="930.7" x2="240.4" y2="939.7" stroke="#999" stroke-width="0.8" />
<rect x="239.3" y="934.1" width="2.2" height="2.2" fill="#111"/>
<line x1="257.3" y1="930.7" x2="257.3" y2="939.7" stroke="#999" stroke-width="0.8" />
<rect x="256.2" y="934.1" width="2.2" height="2.2" fill="#111"/>
<line x1="1097.5" y1="930.7" x2="1097.5" y2="939.7" stroke="#999" stroke-width="0.8" />
<rect x="1096.4" y="934.1" width="2.2" height="2.2" fill="#111"/>
<line x1="1114.6" y1="930.7" x2="1114.6" y2="939.7" stroke="#999" stroke-width="0.8" />
<rect x="1113.5" y="934.1" width="2.2" height="2.2" fill="#111"/>
<line x1="240.4" y1="952.1" x2="240.4" y2="961.1" stroke="#999" stroke-width="0.8" />
<rect x="239.3" y="955.5" width="2.2" height="2.2" fill="#111"/>
<line x1="662.1" y1="952.1" x2="662.1" y2="961.1" stroke="#999" stroke-width="0.8" />
<rect x="661.0" y="955.5" width="2.2" height="2.2" fill="#111"/>
<line x1="867.5" y1="952.1" x2="867.5" y2="961.1" stroke="#999" stroke-width="0.8" />
<rect x="866.4" y="955.5" width="2.2" height="2.2" fill="#111"/>
<line x1="1114.6" y1="952.1" x2="1114.6" y2="961.1" stroke="#999" stroke-width="0.8" />
<rect x="1113.5" y="955.5" width="2.2" height="2.2" fill="#111"/>
<line x1="240.4" y1="972.6" x2="240.4" y2="981.6" stroke="#999" stroke-width="0.8" />
<rect x="239.3" y="976.0" width="2.2" height="2.2" fill="#111"/>
<line x1="1114.6" y1="972.6" x2="1114.6" y2="981.6" stroke="#999" stroke-width="0.8" />
<rect x="1113.5" y="976.0" width="2.2" height="2.2" fill="#111"/>
<text x="248.5" y="903.2" font-size="9.0" text-anchor="middle" fill="#333">20</text>
<text x="239" y="913" font-size="9.0" text-anchor="end" fill="#333">10</text>
<text x="259" y="913" font-size="9.0" text-anchor="start" fill="#333">10</text>
<g transform="translate(498 912.2)" fill="#333"><text x="-13.8" y="0" font-size="9.0" textLength="24.5" lengthAdjust="spacingAndGlyphs">11,47</text><text x="11.0" y="-3.6" font-size="5.6">5</text></g>
<text x="736.5" y="913" font-size="9.0" text-anchor="end" fill="#333">15</text>
<text x="763.4" y="912.6" font-size="9.0" text-anchor="middle" fill="#333" textLength="19.5" lengthAdjust="spacingAndGlyphs">1,20</text>
<text x="793.2" y="913" font-size="9.0" text-anchor="end" fill="#333">15</text>
<g transform="translate(942 912.2)" fill="#333"><text x="-11.3" y="0" font-size="9.0" textLength="19.5" lengthAdjust="spacingAndGlyphs">7,12</text><text x="8.5" y="-3.6" font-size="5.6">5</text></g>
<text x="1106" y="903.2" font-size="9.0" text-anchor="middle" fill="#333">20</text>
<text x="1097" y="913" font-size="9.0" text-anchor="end" fill="#333">10</text>
<text x="1117" y="913" font-size="9.0" text-anchor="start" fill="#333">10</text>
<text x="248.8" y="933.3" font-size="9.0" text-anchor="middle" fill="#333">40</text>
<text x="678" y="933.5" font-size="9.0" text-anchor="middle" fill="#333" textLength="24.5" lengthAdjust="spacingAndGlyphs">20,10</text>
<text x="1106" y="933.3" font-size="9.0" text-anchor="middle" fill="#333">40</text>
<g transform="translate(238 953)" fill="#333"><text x="-8.1" y="0" font-size="9.0">1</text><text x="-2.8" y="-3.6" font-size="5.6">5</text></g>
<g transform="translate(452 954.5)" fill="#333"><text x="-13.8" y="0" font-size="9.0" textLength="24.5" lengthAdjust="spacingAndGlyphs">10,08</text><text x="11.0" y="-3.6" font-size="5.6">5</text></g>
<text x="765" y="954.5" font-size="9.0" text-anchor="middle" fill="#333" textLength="19.5" lengthAdjust="spacingAndGlyphs">4,90</text>
<g transform="translate(988 954.5)" fill="#333"><text x="-11.3" y="0" font-size="9.0" textLength="19.5" lengthAdjust="spacingAndGlyphs">5,91</text><text x="8.5" y="-3.6" font-size="5.6">5</text></g>
<g transform="translate(1113 953)" fill="#333"><text x="-8.1" y="0" font-size="9.0">1</text><text x="-2.8" y="-3.6" font-size="5.6">5</text></g>
<text x="678" y="975.2" font-size="9.0" text-anchor="middle" fill="#333" textLength="24.5" lengthAdjust="spacingAndGlyphs">20,90</text>
</svg>
</body></html>
